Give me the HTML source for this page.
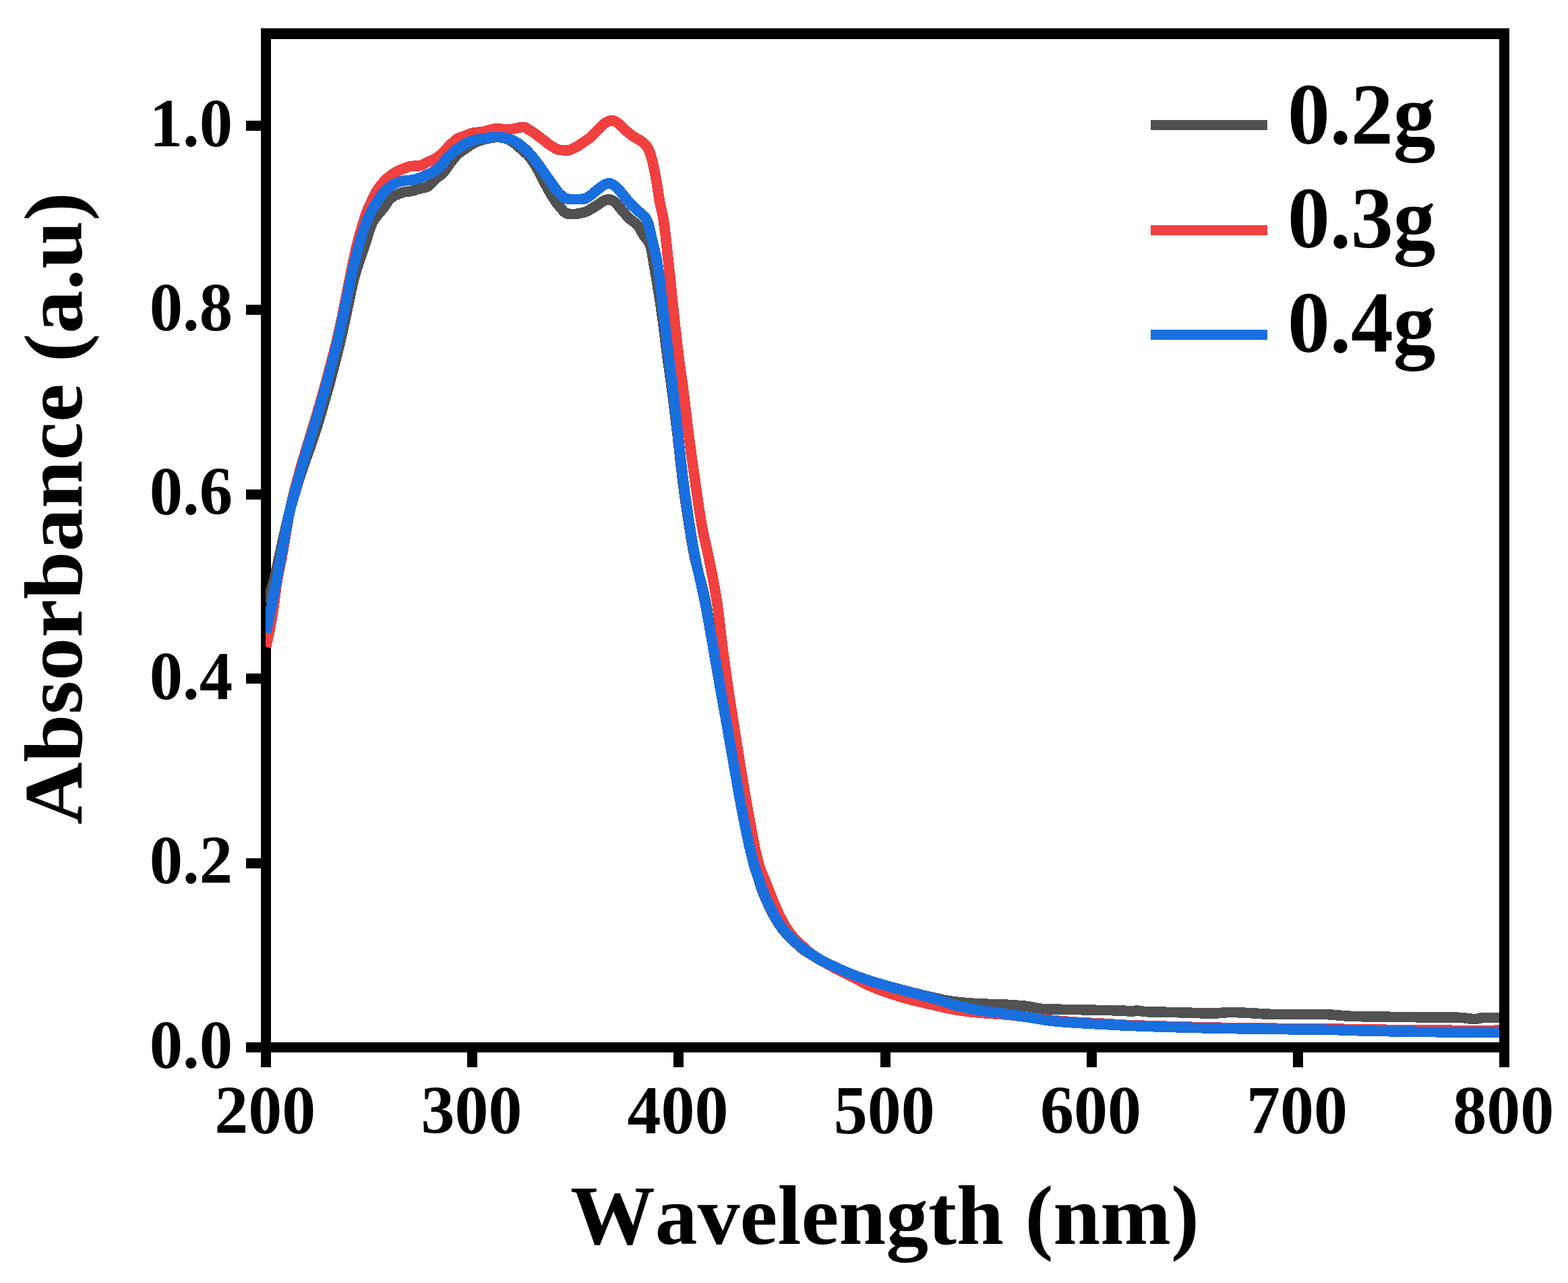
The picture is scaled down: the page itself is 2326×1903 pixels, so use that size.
<!DOCTYPE html>
<html lang="en"><head><meta charset="utf-8"><title>UV-Vis absorbance spectra</title>
<style>
html,body{margin:0;padding:0;background:#fff;}
body{width:2326px;height:1903px;}
svg{display:block;}
text{font-family:"Liberation Serif","DejaVu Serif",serif;font-weight:bold;fill:#000;font-kerning:none;font-variant-ligatures:none;}
</style></head><body>
<svg width="2326" height="1903" viewBox="0 0 2326 1903" role="img" aria-label="UV-Vis absorbance spectra for 0.2g, 0.3g and 0.4g samples">
<rect x="0" y="0" width="2326" height="1903" fill="#fff"/>
<defs><clipPath id="plotclip"><rect x="394" y="58" width="1830" height="1488"/></clipPath></defs>
<g fill="#000" shape-rendering="crispEdges">
<rect x="387" y="42" width="15" height="1541"/>
<rect x="2224" y="42" width="15" height="1541"/>
<rect x="387" y="42" width="1852" height="16"/>
<rect x="365" y="1546" width="1874" height="15"/>
<rect x="365" y="1273" width="23" height="15"/>
<rect x="365" y="999" width="23" height="15"/>
<rect x="365" y="726" width="23" height="15"/>
<rect x="365" y="452" width="23" height="15"/>
<rect x="365" y="179" width="23" height="15"/>
<rect x="693" y="1560" width="15" height="23"/>
<rect x="999" y="1560" width="15" height="23"/>
<rect x="1306" y="1560" width="15" height="23"/>
<rect x="1612" y="1560" width="15" height="23"/>
<rect x="1918" y="1560" width="15" height="23"/>
</g>
<g clip-path="url(#plotclip)" fill="none" stroke-width="15.6" stroke-linejoin="round" stroke-linecap="butt" shape-rendering="crispEdges">
<polyline id="c02" stroke="#515151" points="394.5,894.0 395.3,892.2 396.1,890.3 397.0,888.5 397.8,886.6 398.5,884.8 399.3,882.9 400.1,881.1 400.8,879.2 401.5,877.3 402.1,875.5 402.8,873.6 403.3,871.7 403.9,869.8 404.5,867.9 405.0,866.0 405.5,864.0 406.0,862.1 406.5,860.2 407.0,858.2 407.5,856.3 408.0,854.4 408.4,852.4 408.9,850.5 409.3,848.5 409.8,846.6 410.2,844.6 410.6,842.6 411.1,840.7 411.5,838.7 411.9,836.7 412.3,834.8 412.7,832.8 413.1,830.8 413.6,828.9 414.0,826.9 414.4,825.0 414.8,823.0 415.3,821.0 415.7,819.1 416.2,817.1 416.6,815.2 417.1,813.2 417.5,811.3 418.0,809.3 418.4,807.4 418.8,805.4 419.3,803.5 419.7,801.5 420.2,799.6 420.6,797.6 421.0,795.7 421.5,793.7 421.9,791.7 422.3,789.8 422.8,787.8 423.2,785.9 423.7,783.9 424.1,782.0 424.5,780.0 425.0,778.1 425.5,776.1 425.9,774.2 426.4,772.2 426.8,770.3 427.3,768.3 427.8,766.4 428.3,764.5 428.7,762.5 429.2,760.6 429.7,758.6 430.2,756.7 430.7,754.8 431.3,752.9 431.8,750.9 432.3,749.0 432.8,747.1 433.4,745.1 433.9,743.2 434.5,741.3 435.0,739.4 435.6,737.4 436.2,735.5 436.7,733.6 437.3,731.7 437.9,729.8 438.4,727.8 439.0,725.9 439.6,724.0 440.2,722.1 440.8,720.2 441.4,718.3 442.0,716.4 442.6,714.5 443.2,712.5 443.8,710.6 444.4,708.7 445.0,706.8 445.6,704.9 446.2,703.0 446.8,701.1 447.5,699.2 448.1,697.3 448.7,695.4 449.4,693.5 450.0,691.6 450.7,689.7 451.3,687.8 452.0,686.0 452.7,684.1 453.3,682.2 454.0,680.3 454.7,678.4 455.4,676.5 456.1,674.7 456.7,672.8 457.4,670.9 458.1,669.0 458.8,667.1 459.5,665.2 460.1,663.4 460.8,661.5 461.5,659.6 462.1,657.7 462.8,655.8 463.4,653.9 464.1,652.0 464.7,650.1 465.3,648.2 465.9,646.3 466.6,644.4 467.2,642.5 467.8,640.6 468.4,638.7 469.0,636.8 469.6,634.9 470.2,633.0 470.8,631.1 471.4,629.1 472.0,627.2 472.5,625.3 473.1,623.4 473.7,621.5 474.3,619.6 474.9,617.7 475.4,615.7 476.0,613.8 476.6,611.9 477.1,610.0 477.7,608.1 478.3,606.1 478.8,604.2 479.4,602.3 480.0,600.4 480.5,598.5 481.1,596.5 481.6,594.6 482.2,592.7 482.7,590.8 483.3,588.8 483.8,586.9 484.4,585.0 484.9,583.1 485.5,581.1 486.0,579.2 486.5,577.3 487.1,575.4 487.6,573.4 488.1,571.5 488.7,569.6 489.2,567.6 489.7,565.7 490.2,563.8 490.8,561.8 491.3,559.9 491.8,558.0 492.3,556.0 492.8,554.1 493.3,552.2 493.8,550.2 494.3,548.3 494.9,546.4 495.4,544.4 495.9,542.5 496.4,540.6 496.9,538.6 497.4,536.7 497.8,534.7 498.3,532.8 498.8,530.9 499.3,528.9 499.8,527.0 500.3,525.0 500.8,523.1 501.3,521.1 501.7,519.2 502.2,517.3 502.7,515.3 503.1,513.4 503.6,511.4 504.1,509.5 504.5,507.5 505.0,505.6 505.5,503.6 505.9,501.7 506.4,499.7 506.8,497.8 507.3,495.8 507.7,493.9 508.1,491.9 508.6,490.0 509.0,488.0 509.4,486.1 509.8,484.1 510.2,482.2 510.7,480.2 511.1,478.2 511.5,476.3 511.9,474.3 512.3,472.4 512.7,470.4 513.1,468.4 513.6,466.5 514.0,464.5 514.4,462.6 514.8,460.6 515.2,458.7 515.6,456.7 516.0,454.7 516.5,452.8 516.9,450.8 517.3,448.9 517.7,446.9 518.1,445.0 518.5,443.0 519.0,441.0 519.4,439.1 519.8,437.1 520.2,435.1 520.6,433.2 521.0,431.2 521.4,429.3 521.8,427.3 522.3,425.4 522.7,423.4 523.2,421.5 523.6,419.5 524.1,417.6 524.6,415.6 525.1,413.7 525.6,411.8 526.1,409.9 526.7,407.9 527.2,406.0 527.8,404.1 528.3,402.2 528.9,400.3 529.5,398.3 530.1,396.4 530.7,394.5 531.3,392.6 531.9,390.7 532.5,388.8 533.2,386.9 533.8,385.0 534.4,383.1 535.1,381.2 535.7,379.3 536.4,377.4 537.0,375.5 537.7,373.6 538.3,371.7 539.0,369.8 539.6,367.9 540.2,366.0 540.9,364.1 541.5,362.2 542.2,360.3 542.8,358.4 543.4,356.5 544.1,354.6 544.7,352.7 545.3,350.8 545.8,348.8 546.4,346.9 547.0,344.9 547.6,343.0 548.2,341.1 548.9,339.2 549.5,337.3 550.2,335.4 550.9,333.6 551.7,331.8 552.5,330.0 553.4,328.3 554.4,326.6 555.4,324.9 556.6,323.3 557.8,321.7 559.1,320.1 560.4,318.6 561.7,317.0 563.0,315.4 564.3,313.9 565.6,312.3 566.9,310.8 568.2,309.3 569.4,307.7 570.6,306.1 571.7,304.4 572.8,302.7 573.8,301.0 574.9,299.3 576.1,297.8 577.5,296.3 578.9,294.9 580.4,293.5 582.0,292.3 583.6,291.2 585.4,290.2 587.2,289.4 589.0,288.6 590.9,287.8 592.8,287.1 594.6,286.3 596.5,285.7 598.5,285.1 600.4,284.7 602.4,284.4 604.4,284.2 606.4,283.9 608.4,283.7 610.3,283.4 612.3,282.9 614.2,282.4 616.1,281.8 618.0,281.1 619.9,280.5 621.8,279.9 623.8,279.4 625.8,279.0 627.8,278.6 629.8,278.2 631.7,277.7 633.5,277.1 635.1,276.2 636.7,275.1 638.1,273.8 639.5,272.3 640.9,270.7 642.2,269.0 643.6,267.5 645.1,266.1 646.6,264.8 648.2,263.6 649.9,262.4 651.5,261.2 653.1,260.0 654.6,258.7 656.1,257.4 657.5,256.0 658.8,254.5 660.0,252.9 661.2,251.3 662.4,249.7 663.5,248.0 664.7,246.4 665.8,244.7 667.0,243.1 668.3,241.5 669.5,239.9 670.8,238.4 672.0,236.8 673.3,235.2 674.5,233.6 675.8,232.1 677.2,230.6 678.5,229.2 680.0,227.8 681.5,226.6 683.1,225.4 684.7,224.2 686.4,223.1 688.1,222.0 689.8,220.9 691.5,219.8 693.1,218.6 694.7,217.4 696.3,216.2 698.0,215.0 699.6,213.9 701.3,212.9 703.1,212.0 704.9,211.2 706.7,210.4 708.6,209.7 710.5,209.0 712.4,208.4 714.3,207.8 716.2,207.2 718.2,206.7 720.1,206.2 722.1,205.7 724.0,205.2 726.0,204.9 727.9,204.6 729.9,204.2 731.9,203.9 733.9,203.7 735.9,203.5 737.9,203.5 739.9,203.6 741.9,203.8 743.9,204.1 745.9,204.4 747.9,204.8 749.8,205.2 751.6,205.8 753.5,206.5 755.3,207.4 757.1,208.4 758.9,209.5 760.6,210.5 762.2,211.6 763.8,212.7 765.4,214.0 766.9,215.3 768.4,216.7 769.9,218.0 771.4,219.4 772.9,220.8 774.4,222.1 775.9,223.4 777.4,224.7 778.9,226.1 780.4,227.4 781.9,228.8 783.3,230.2 784.6,231.7 785.8,233.2 787.1,234.8 788.2,236.4 789.4,238.0 790.5,239.7 791.6,241.4 792.7,243.1 793.8,244.8 794.8,246.5 795.8,248.2 796.8,250.0 797.8,251.7 798.8,253.4 799.7,255.2 800.6,257.0 801.5,258.8 802.4,260.6 803.3,262.4 804.2,264.1 805.1,265.9 806.1,267.7 807.0,269.5 808.0,271.2 808.9,273.0 809.9,274.8 810.8,276.5 811.8,278.3 812.7,280.1 813.7,281.8 814.7,283.6 815.7,285.3 816.7,287.0 817.7,288.7 818.7,290.4 819.8,292.1 820.9,293.8 822.0,295.5 823.1,297.2 824.3,298.8 825.4,300.5 826.6,302.1 827.9,303.7 829.1,305.2 830.4,306.7 831.7,308.2 833.1,309.9 834.5,311.5 836.0,313.2 837.5,314.6 839.1,315.8 840.7,316.7 842.4,317.1 844.3,317.3 846.4,317.5 848.5,317.6 850.5,317.6 852.5,317.5 854.5,317.3 856.5,317.0 858.5,316.7 860.5,316.3 862.4,315.9 864.4,315.5 866.3,315.0 868.1,314.4 870.0,313.6 871.8,312.7 873.6,311.8 875.4,310.8 877.1,309.9 878.9,308.9 880.6,307.8 882.2,306.7 883.9,305.6 885.6,304.5 887.3,303.5 889.0,302.4 890.7,301.2 892.4,300.0 894.1,298.8 895.8,297.7 897.6,296.9 899.4,296.4 901.4,296.1 903.4,295.9 905.3,296.0 907.2,296.6 909.1,297.7 910.8,298.8 912.3,300.0 913.8,301.2 915.1,302.6 916.4,304.2 917.7,305.8 919.0,307.4 920.2,309.1 921.5,310.7 922.8,312.2 924.1,313.7 925.5,315.2 926.8,316.7 928.2,318.2 929.5,319.6 930.9,321.1 932.3,322.5 933.7,323.9 935.2,325.3 936.7,326.6 938.3,327.8 939.9,329.0 941.6,330.3 943.1,331.5 944.6,332.9 945.9,334.3 947.1,335.8 948.2,337.4 949.2,339.1 950.2,340.9 951.2,342.7 952.2,344.5 953.2,346.2 954.2,348.0 955.3,349.7 956.5,351.3 957.7,352.9 959.0,354.6 960.3,356.2 961.5,357.8 962.6,359.5 963.6,361.2 964.3,362.9 964.9,364.7 965.4,366.6 965.9,368.4 966.3,370.4 966.7,372.3 967.1,374.3 967.5,376.3 967.8,378.3 968.1,380.3 968.4,382.3 968.8,384.4 969.1,386.4 969.4,388.4 969.7,390.4 970.1,392.4 970.4,394.3 970.8,396.3 971.1,398.3 971.5,400.2 971.8,402.2 972.2,404.2 972.5,406.1 972.8,408.1 973.2,410.1 973.5,412.1 973.8,414.0 974.2,416.0 974.5,418.0 974.8,420.0 975.2,421.9 975.5,423.9 975.8,425.9 976.1,427.9 976.5,429.8 976.8,431.8 977.1,433.8 977.4,435.8 977.7,437.7 978.0,439.7 978.4,441.7 978.7,443.7 979.0,445.6 979.3,447.6 979.6,449.6 979.9,451.6 980.2,453.6 980.5,455.5 980.8,457.5 981.0,459.5 981.3,461.5 981.6,463.5 981.9,465.4 982.2,467.4 982.5,469.4 982.7,471.4 983.0,473.4 983.3,475.3 983.5,477.3 983.8,479.3 984.1,481.3 984.3,483.3 984.6,485.3 984.8,487.3 985.1,489.2 985.3,491.2 985.6,493.2 985.8,495.2 986.1,497.2 986.3,499.2 986.6,501.2 986.8,503.1 987.1,505.1 987.3,507.1 987.5,509.1 987.8,511.1 988.0,513.1 988.3,515.1 988.5,517.0 988.8,519.0 989.0,521.0 989.3,523.0 989.5,525.0 989.8,527.0 990.1,529.0 990.3,530.9 990.6,532.9 990.9,534.9 991.1,536.9 991.4,538.9 991.7,540.9 991.9,542.8 992.2,544.8 992.5,546.8 992.8,548.8 993.1,550.8 993.4,552.7 993.7,554.7 993.9,556.7 994.2,558.7 994.5,560.7 994.8,562.6 995.1,564.6 995.3,566.6 995.6,568.6 995.9,570.6 996.1,572.6 996.4,574.5 996.7,576.5 996.9,578.5 997.2,580.5 997.4,582.5 997.7,584.5 997.9,586.4 998.2,588.4 998.4,590.4 998.7,592.4 998.9,594.4 999.2,596.4 999.4,598.4 999.7,600.3 999.9,602.3 1000.2,604.3 1000.4,606.3 1000.7,608.3 1000.9,610.3 1001.1,612.3 1001.4,614.2 1001.6,616.2 1001.9,618.2 1002.1,620.2 1002.3,622.2 1002.6,624.2 1002.8,626.2 1003.1,628.2 1003.3,630.1 1003.5,632.1 1003.8,634.1 1004.0,636.1 1004.2,638.1 1004.5,640.1 1004.7,642.1 1004.9,644.1 1005.2,646.0 1005.4,648.0 1005.6,650.0 1005.9,652.0 1006.1,654.0 1006.3,656.0 1006.5,658.0 1006.7,660.0 1007.0,662.0 1007.2,663.9 1007.4,665.9 1007.6,667.9 1007.8,669.9 1008.1,671.9 1008.3,673.9 1008.5,675.9 1008.7,677.9 1008.9,679.9 1009.1,681.8 1009.4,683.8 1009.6,685.8 1009.8,687.8 1010.0,689.8 1010.2,691.8 1010.5,693.8 1010.7,695.8 1010.9,697.8 1011.2,699.7 1011.4,701.7 1011.6,703.7 1011.9,705.7 1012.1,707.7 1012.4,709.7 1012.6,711.7 1012.9,713.6 1013.1,715.6 1013.4,717.6 1013.6,719.6 1013.9,721.6 1014.2,723.6 1014.4,725.5 1014.7,727.5 1015.0,729.5 1015.2,731.5 1015.5,733.5 1015.8,735.5 1016.1,737.4 1016.3,739.4 1016.6,741.4 1016.9,743.4 1017.2,745.4 1017.5,747.3 1017.8,749.3 1018.1,751.3 1018.4,753.3 1018.7,755.3 1018.9,757.2 1019.2,759.2 1019.5,761.2 1019.8,763.2 1020.1,765.2 1020.5,767.1 1020.8,769.1 1021.1,771.1 1021.4,773.1 1021.7,775.0 1022.0,777.0 1022.3,779.0 1022.6,781.0 1022.9,783.0 1023.2,784.9 1023.5,786.9 1023.9,788.9 1024.2,790.9 1024.5,792.8 1024.8,794.8 1025.1,796.8 1025.4,798.8 1025.8,800.7 1026.1,802.7 1026.4,804.7 1026.8,806.7 1027.1,808.6 1027.5,810.6 1027.8,812.6 1028.2,814.5 1028.5,816.5 1028.9,818.5 1029.3,820.4 1029.7,822.4 1030.1,824.4 1030.5,826.3 1030.9,828.3 1031.4,830.2 1031.8,832.2 1032.3,834.1 1032.7,836.1 1033.2,838.0 1033.7,839.9 1034.2,841.9 1034.7,843.8 1035.2,845.8 1035.7,847.7 1036.2,849.6 1036.7,851.6 1037.2,853.5 1037.7,855.5 1038.2,857.4 1038.7,859.3 1039.2,861.3 1039.7,863.2 1040.2,865.2 1040.7,867.1 1041.2,869.0 1041.7,871.0 1042.2,872.9 1042.7,874.9 1043.1,876.8 1043.6,878.8 1044.1,880.7 1044.5,882.7 1044.9,884.6 1045.4,886.6 1045.8,888.5 1046.2,890.5 1046.6,892.4 1047.0,894.4 1047.3,896.4 1047.7,898.3 1048.1,900.3 1048.4,902.2 1048.8,904.2 1049.1,906.2 1049.5,908.2 1049.8,910.1 1050.2,912.1 1050.5,914.1 1050.8,916.0 1051.2,918.0 1051.5,920.0 1051.8,922.0 1052.1,923.9 1052.5,925.9 1052.8,927.9 1053.1,929.9 1053.4,931.9 1053.7,933.8 1054.0,935.8 1054.3,937.8 1054.7,939.8 1055.0,941.7 1055.3,943.7 1055.6,945.7 1055.9,947.7 1056.2,949.7 1056.5,951.6 1056.9,953.6 1057.2,955.6 1057.5,957.6 1057.8,959.5 1058.2,961.5 1058.5,963.5 1058.8,965.4 1059.2,967.4 1059.5,969.4 1059.9,971.4 1060.2,973.3 1060.5,975.3 1060.9,977.3 1061.2,979.3 1061.6,981.2 1061.9,983.2 1062.3,985.2 1062.6,987.1 1062.9,989.1 1063.3,991.1 1063.6,993.1 1064.0,995.0 1064.3,997.0 1064.7,999.0 1065.0,1000.9 1065.4,1002.9 1065.7,1004.9 1066.0,1006.8 1066.4,1008.8 1066.7,1010.8 1067.1,1012.8 1067.4,1014.7 1067.8,1016.7 1068.1,1018.7 1068.5,1020.6 1068.8,1022.6 1069.2,1024.6 1069.5,1026.6 1069.9,1028.5 1070.2,1030.5 1070.6,1032.5 1070.9,1034.4 1071.3,1036.4 1071.6,1038.4 1072.0,1040.3 1072.3,1042.3 1072.7,1044.3 1073.0,1046.3 1073.4,1048.2 1073.7,1050.2 1074.1,1052.2 1074.5,1054.1 1074.8,1056.1 1075.2,1058.1 1075.5,1060.0 1075.9,1062.0 1076.2,1064.0 1076.6,1066.0 1076.9,1067.9 1077.3,1069.9 1077.6,1071.9 1078.0,1073.8 1078.3,1075.8 1078.7,1077.8 1079.0,1079.7 1079.4,1081.7 1079.7,1083.7 1080.1,1085.7 1080.4,1087.6 1080.7,1089.6 1081.1,1091.6 1081.4,1093.5 1081.8,1095.5 1082.1,1097.5 1082.5,1099.5 1082.8,1101.4 1083.1,1103.4 1083.5,1105.4 1083.8,1107.3 1084.2,1109.3 1084.5,1111.3 1084.9,1113.3 1085.2,1115.2 1085.5,1117.2 1085.9,1119.2 1086.2,1121.1 1086.6,1123.1 1086.9,1125.1 1087.3,1127.1 1087.6,1129.0 1088.0,1131.0 1088.3,1133.0 1088.6,1134.9 1089.0,1136.9 1089.3,1138.9 1089.7,1140.9 1090.0,1142.8 1090.4,1144.8 1090.7,1146.8 1091.1,1148.7 1091.4,1150.7 1091.8,1152.7 1092.1,1154.6 1092.5,1156.6 1092.8,1158.6 1093.2,1160.6 1093.5,1162.5 1093.9,1164.5 1094.2,1166.5 1094.6,1168.5 1094.9,1170.4 1095.2,1172.4 1095.6,1174.4 1095.9,1176.3 1096.3,1178.3 1096.6,1180.3 1097.0,1182.2 1097.3,1184.2 1097.7,1186.2 1098.1,1188.2 1098.4,1190.1 1098.8,1192.1 1099.1,1194.1 1099.5,1196.0 1099.9,1198.0 1100.3,1200.0 1100.6,1201.9 1101.0,1203.9 1101.4,1205.9 1101.8,1207.8 1102.2,1209.8 1102.5,1211.7 1102.9,1213.7 1103.3,1215.7 1103.7,1217.6 1104.1,1219.6 1104.5,1221.5 1104.9,1223.5 1105.3,1225.5 1105.7,1227.4 1106.1,1229.4 1106.5,1231.4 1106.9,1233.3 1107.3,1235.3 1107.8,1237.2 1108.2,1239.2 1108.6,1241.2 1109.0,1243.1 1109.4,1245.1 1109.9,1247.0 1110.3,1249.0 1110.7,1251.0 1111.1,1252.9 1111.6,1254.9 1112.0,1256.8 1112.5,1258.8 1112.9,1260.7 1113.4,1262.7 1113.9,1264.6 1114.3,1266.6 1114.8,1268.5 1115.3,1270.4 1115.8,1272.4 1116.3,1274.3 1116.8,1276.3 1117.3,1278.2 1117.8,1280.1 1118.3,1282.0 1118.8,1284.0 1119.4,1285.9 1119.9,1287.8 1120.5,1289.7 1121.2,1291.6 1121.8,1293.5 1122.4,1295.4 1123.1,1297.3 1123.7,1299.2 1124.4,1301.1 1125.0,1303.0 1125.6,1304.9 1126.2,1306.8 1126.8,1308.8 1127.4,1310.7 1128.0,1312.6 1128.6,1314.5 1129.2,1316.4 1129.9,1318.3 1130.5,1320.1 1131.2,1322.0 1132.0,1323.9 1132.7,1325.7 1133.5,1327.6 1134.3,1329.4 1135.1,1331.3 1135.9,1333.1 1136.7,1334.9 1137.5,1336.7 1138.3,1338.6 1139.2,1340.4 1140.0,1342.2 1140.9,1344.0 1141.7,1345.8 1142.6,1347.6 1143.5,1349.4 1144.4,1351.2 1145.3,1353.0 1146.2,1354.8 1147.1,1356.5 1148.1,1358.3 1149.1,1360.0 1150.1,1361.8 1151.1,1363.5 1152.1,1365.3 1153.2,1367.0 1154.2,1368.7 1155.3,1370.3 1156.4,1372.0 1157.6,1373.6 1158.7,1375.2 1159.9,1376.8 1161.1,1378.4 1162.4,1380.0 1163.7,1381.5 1165.0,1383.1 1166.3,1384.6 1167.6,1386.1 1169.0,1387.6 1170.3,1389.0 1171.7,1390.5 1173.1,1391.9 1174.5,1393.3 1176.0,1394.7 1177.4,1396.1 1179.0,1397.4 1180.5,1398.7 1182.0,1400.0 1183.5,1401.3 1185.0,1402.6 1186.5,1403.9 1188.0,1405.3 1189.6,1406.6 1191.1,1407.8 1192.7,1409.0 1194.4,1410.1 1196.0,1411.2 1197.7,1412.3 1199.4,1413.4 1201.1,1414.5 1202.8,1415.5 1204.5,1416.6 1206.2,1417.6 1207.9,1418.7 1209.6,1419.8 1211.3,1420.8 1213.0,1421.9 1214.7,1422.9 1216.4,1423.9 1218.2,1424.9 1219.9,1425.9 1221.7,1426.8 1223.5,1427.7 1225.3,1428.5 1227.1,1429.3 1229.0,1430.2 1230.8,1431.0 1232.6,1431.8 1234.5,1432.6 1236.3,1433.4 1238.1,1434.3 1239.9,1435.1 1241.8,1435.9 1243.6,1436.7 1245.4,1437.5 1247.3,1438.3 1249.1,1439.1 1250.9,1439.9 1252.8,1440.7 1254.6,1441.5 1256.5,1442.2 1258.3,1443.0 1260.2,1443.8 1262.0,1444.5 1263.9,1445.2 1265.8,1445.9 1267.6,1446.7 1269.5,1447.4 1271.4,1448.1 1273.2,1448.8 1275.1,1449.4 1277.0,1450.1 1278.9,1450.8 1280.8,1451.5 1282.7,1452.1 1284.6,1452.8 1286.5,1453.4 1288.4,1454.0 1290.3,1454.7 1292.2,1455.3 1294.1,1455.9 1296.0,1456.5 1297.9,1457.1 1299.8,1457.6 1301.7,1458.2 1303.6,1458.8 1305.6,1459.3 1307.5,1459.9 1309.4,1460.4 1311.3,1461.0 1313.3,1461.5 1315.2,1462.1 1317.1,1462.6 1319.1,1463.1 1321.0,1463.7 1322.9,1464.2 1324.8,1464.7 1326.8,1465.3 1328.7,1465.8 1330.6,1466.3 1332.6,1466.8 1334.5,1467.3 1336.4,1467.9 1338.4,1468.4 1340.3,1468.9 1342.2,1469.4 1344.2,1469.9 1346.1,1470.4 1348.1,1470.9 1350.0,1471.4 1351.9,1471.9 1353.9,1472.4 1355.8,1472.9 1357.8,1473.4 1359.7,1473.8 1361.6,1474.3 1363.6,1474.8 1365.5,1475.3 1367.5,1475.8 1369.4,1476.3 1371.4,1476.7 1373.3,1477.2 1375.3,1477.6 1377.2,1478.1 1379.2,1478.5 1381.1,1478.9 1383.1,1479.4 1385.0,1479.8 1387.0,1480.3 1388.9,1480.7 1390.9,1481.1 1392.8,1481.6 1394.8,1482.0 1396.8,1482.4 1398.7,1482.9 1400.7,1483.3 1402.7,1483.7 1404.6,1484.0 1406.6,1484.4 1408.6,1484.7 1410.5,1485.1 1412.5,1485.3 1414.5,1485.6 1416.5,1485.9 1418.4,1486.1 1420.4,1486.3 1422.4,1486.5 1424.4,1486.7 1426.4,1486.9 1428.4,1487.1 1430.4,1487.3 1432.4,1487.5 1434.4,1487.6 1436.4,1487.8 1438.4,1488.0 1440.4,1488.1 1442.4,1488.2 1444.4,1488.4 1446.4,1488.5 1448.4,1488.6 1450.4,1488.7 1452.4,1488.8 1454.4,1488.9 1456.4,1489.0 1458.3,1489.1 1460.3,1489.1 1462.3,1489.2 1464.3,1489.3 1466.4,1489.3 1468.4,1489.4 1470.4,1489.4 1472.4,1489.5 1474.4,1489.5 1476.4,1489.6 1478.4,1489.6 1480.4,1489.7 1482.4,1489.8 1484.4,1489.8 1486.4,1489.9 1488.4,1490.0 1490.4,1490.1 1492.4,1490.2 1494.4,1490.3 1496.4,1490.4 1498.4,1490.5 1500.4,1490.7 1502.4,1490.8 1504.3,1490.9 1506.3,1491.1 1508.3,1491.2 1510.3,1491.4 1512.3,1491.5 1514.3,1491.7 1516.3,1491.9 1518.3,1492.0 1520.3,1492.2 1522.3,1492.4 1524.3,1492.6 1526.3,1492.9 1528.2,1493.2 1530.2,1493.6 1532.2,1494.0 1534.2,1494.4 1536.1,1494.8 1538.1,1495.2 1540.1,1495.6 1542.0,1496.0 1544.0,1496.3 1546.0,1496.6 1548.0,1496.8 1549.9,1496.9 1551.9,1496.9 1553.9,1497.0 1555.9,1497.0 1557.9,1497.1 1559.9,1497.1 1561.9,1497.1 1563.9,1497.2 1565.9,1497.2 1567.9,1497.2 1569.9,1497.2 1571.9,1497.2 1573.9,1497.3 1575.9,1497.3 1577.9,1497.3 1579.9,1497.3 1581.9,1497.3 1583.9,1497.3 1585.9,1497.4 1588.0,1497.4 1590.0,1497.4 1592.0,1497.4 1594.0,1497.5 1596.0,1497.5 1598.0,1497.5 1600.0,1497.6 1602.0,1497.6 1604.0,1497.7 1606.0,1497.7 1608.0,1497.8 1610.0,1497.8 1612.0,1497.9 1614.0,1497.9 1616.0,1498.0 1618.0,1498.0 1620.0,1498.1 1622.0,1498.2 1624.0,1498.2 1626.0,1498.3 1628.0,1498.3 1630.0,1498.4 1632.0,1498.4 1634.0,1498.4 1636.0,1498.5 1638.0,1498.5 1640.0,1498.5 1642.0,1498.6 1644.0,1498.6 1646.0,1498.6 1648.0,1498.6 1650.0,1498.7 1652.0,1498.7 1654.0,1498.7 1656.0,1498.8 1658.0,1498.8 1660.0,1498.9 1662.0,1498.9 1664.0,1499.0 1666.0,1499.0 1668.0,1499.1 1670.0,1499.3 1672.0,1499.6 1674.0,1499.9 1675.9,1500.2 1677.9,1500.3 1679.9,1500.1 1681.9,1499.7 1683.8,1499.2 1685.8,1499.0 1687.8,1499.1 1689.8,1499.3 1691.8,1499.6 1693.8,1499.9 1695.7,1500.2 1697.7,1500.4 1699.7,1500.6 1701.7,1500.7 1703.7,1500.7 1705.7,1500.8 1707.7,1500.9 1709.7,1500.9 1711.7,1501.0 1713.7,1501.0 1715.7,1501.0 1717.7,1501.1 1719.7,1501.1 1721.7,1501.2 1723.7,1501.2 1725.7,1501.2 1727.7,1501.2 1729.7,1501.3 1731.7,1501.3 1733.7,1501.3 1735.7,1501.4 1737.7,1501.4 1739.7,1501.4 1741.7,1501.5 1743.7,1501.5 1745.7,1501.6 1747.7,1501.7 1749.7,1501.7 1751.7,1501.8 1753.8,1501.8 1755.8,1501.9 1757.8,1502.0 1759.8,1502.0 1761.8,1502.1 1763.8,1502.2 1765.8,1502.2 1767.8,1502.3 1769.8,1502.4 1771.8,1502.4 1773.8,1502.5 1775.8,1502.6 1777.8,1502.6 1779.8,1502.7 1781.8,1502.7 1783.8,1502.8 1785.8,1502.8 1787.8,1502.9 1789.8,1502.9 1791.8,1502.9 1793.8,1503.0 1795.8,1503.0 1797.8,1503.0 1799.8,1503.0 1801.8,1503.0 1803.8,1502.9 1805.8,1502.8 1807.8,1502.7 1809.7,1502.5 1811.7,1502.3 1813.7,1502.2 1815.7,1502.0 1817.7,1501.8 1819.7,1501.7 1821.7,1501.6 1823.7,1501.5 1825.7,1501.5 1827.7,1501.5 1829.7,1501.5 1831.7,1501.6 1833.7,1501.6 1835.7,1501.7 1837.7,1501.8 1839.7,1501.9 1841.7,1502.0 1843.7,1502.1 1845.7,1502.2 1847.7,1502.3 1849.7,1502.4 1851.7,1502.5 1853.7,1502.6 1855.7,1502.7 1857.7,1502.8 1859.7,1502.9 1861.7,1503.0 1863.7,1503.2 1865.7,1503.3 1867.7,1503.4 1869.7,1503.6 1871.7,1503.7 1873.7,1503.8 1875.7,1504.0 1877.7,1504.1 1879.7,1504.2 1881.7,1504.2 1883.7,1504.3 1885.7,1504.3 1887.7,1504.3 1889.7,1504.3 1891.7,1504.3 1893.7,1504.3 1895.7,1504.3 1897.7,1504.3 1899.7,1504.3 1901.7,1504.3 1903.7,1504.3 1905.7,1504.3 1907.7,1504.3 1909.7,1504.3 1911.7,1504.3 1913.7,1504.3 1915.7,1504.3 1917.7,1504.3 1919.7,1504.4 1921.7,1504.4 1923.7,1504.4 1925.7,1504.4 1927.7,1504.4 1929.7,1504.4 1931.7,1504.4 1933.7,1504.4 1935.7,1504.4 1937.7,1504.4 1939.7,1504.4 1941.7,1504.4 1943.7,1504.4 1945.7,1504.4 1947.7,1504.4 1949.7,1504.4 1951.7,1504.4 1953.7,1504.4 1955.7,1504.4 1957.7,1504.4 1959.7,1504.4 1961.7,1504.4 1963.7,1504.5 1965.7,1504.5 1967.7,1504.6 1969.7,1504.7 1971.7,1504.8 1973.7,1505.0 1975.7,1505.1 1977.7,1505.3 1979.7,1505.4 1981.7,1505.6 1983.7,1505.8 1985.7,1505.9 1987.7,1506.1 1989.7,1506.3 1991.7,1506.5 1993.7,1506.6 1995.7,1506.8 1997.7,1506.9 1999.7,1507.0 2001.7,1507.2 2003.7,1507.3 2005.7,1507.3 2007.7,1507.4 2009.7,1507.4 2011.7,1507.5 2013.7,1507.5 2015.7,1507.6 2017.7,1507.6 2019.7,1507.7 2021.7,1507.7 2023.7,1507.7 2025.7,1507.8 2027.7,1507.8 2029.7,1507.8 2031.7,1507.9 2033.7,1507.9 2035.7,1507.9 2037.7,1508.0 2039.7,1508.0 2041.7,1508.0 2043.7,1508.0 2045.7,1508.1 2047.7,1508.1 2049.7,1508.1 2051.7,1508.1 2053.7,1508.2 2055.7,1508.2 2057.7,1508.2 2059.7,1508.2 2061.7,1508.3 2063.7,1508.3 2065.7,1508.3 2067.7,1508.3 2069.7,1508.3 2071.7,1508.4 2073.7,1508.4 2075.7,1508.4 2077.7,1508.4 2079.7,1508.4 2081.7,1508.5 2083.7,1508.5 2085.7,1508.5 2087.7,1508.5 2089.7,1508.6 2091.7,1508.6 2093.7,1508.6 2095.7,1508.6 2097.7,1508.6 2099.7,1508.7 2101.7,1508.7 2103.7,1508.7 2105.7,1508.7 2107.7,1508.7 2109.7,1508.7 2111.7,1508.8 2113.7,1508.8 2115.7,1508.8 2117.7,1508.8 2119.7,1508.8 2121.7,1508.8 2123.7,1508.8 2125.7,1508.8 2127.7,1508.9 2129.8,1508.9 2131.8,1508.9 2133.8,1508.9 2135.8,1508.9 2137.8,1508.9 2139.8,1508.9 2141.8,1509.0 2143.8,1509.0 2145.8,1509.0 2147.8,1509.0 2149.8,1509.0 2151.8,1509.1 2153.8,1509.1 2155.8,1509.1 2157.8,1509.1 2159.8,1509.2 2161.8,1509.2 2163.7,1509.3 2165.7,1509.3 2167.7,1509.4 2169.7,1509.5 2171.7,1509.7 2173.7,1510.0 2175.7,1510.3 2177.7,1510.6 2179.7,1510.9 2181.7,1511.1 2183.7,1511.3 2185.7,1511.5 2187.6,1511.5 2189.6,1511.4 2191.6,1511.1 2193.6,1510.7 2195.5,1510.2 2197.5,1509.8 2199.5,1509.5 2201.5,1509.3 2203.5,1509.3 2205.5,1509.3 2207.5,1509.3 2209.5,1509.3 2211.4,1509.3 2213.4,1509.3 2215.4,1509.3 2217.4,1509.3 2219.4,1509.3 2221.4,1509.3 2223.5,1509.3 2225.5,1509.3 2227.5,1509.3 2229.5,1509.3 2231.5,1509.3"/>
<use href="#c02" stroke-width="13.6" shape-rendering="geometricPrecision"/>
<polyline id="c03" stroke="#F14040" points="394.5,959.5 395.0,957.5 395.4,955.6 395.9,953.6 396.3,951.7 396.8,949.7 397.2,947.8 397.6,945.8 398.1,943.9 398.5,941.9 398.9,939.9 399.3,938.0 399.7,936.0 400.1,934.1 400.5,932.1 400.9,930.1 401.2,928.2 401.6,926.2 402.0,924.2 402.3,922.3 402.7,920.3 403.0,918.3 403.4,916.4 403.7,914.4 404.1,912.4 404.4,910.4 404.7,908.5 405.0,906.5 405.3,904.5 405.6,902.5 405.9,900.6 406.2,898.6 406.5,896.6 406.7,894.6 407.0,892.6 407.2,890.6 407.4,888.7 407.7,886.7 407.9,884.7 408.1,882.7 408.4,880.7 408.6,878.7 408.9,876.7 409.1,874.7 409.4,872.8 409.7,870.8 410.0,868.8 410.3,866.8 410.6,864.9 411.0,862.9 411.3,860.9 411.7,859.0 412.0,857.0 412.4,855.0 412.8,853.1 413.1,851.1 413.5,849.1 413.9,847.2 414.3,845.2 414.7,843.2 415.1,841.3 415.4,839.3 415.8,837.3 416.2,835.4 416.6,833.4 417.0,831.4 417.4,829.5 417.8,827.5 418.2,825.6 418.5,823.6 418.9,821.6 419.3,819.7 419.7,817.7 420.0,815.7 420.4,813.7 420.7,811.8 421.0,809.8 421.4,807.8 421.7,805.9 422.0,803.9 422.4,801.9 422.7,799.9 423.0,798.0 423.3,796.0 423.6,794.0 424.0,792.0 424.3,790.0 424.6,788.1 424.9,786.1 425.2,784.1 425.6,782.1 425.9,780.2 426.2,778.2 426.6,776.2 426.9,774.2 427.2,772.3 427.6,770.3 427.9,768.3 428.3,766.4 428.7,764.4 429.0,762.4 429.4,760.5 429.8,758.5 430.2,756.6 430.6,754.6 431.0,752.7 431.5,750.7 431.9,748.7 432.3,746.8 432.8,744.8 433.2,742.9 433.7,740.9 434.1,739.0 434.6,737.1 435.1,735.1 435.6,733.2 436.0,731.2 436.5,729.3 437.0,727.3 437.5,725.4 438.0,723.5 438.5,721.5 439.0,719.6 439.5,717.6 440.1,715.7 440.6,713.8 441.1,711.8 441.6,709.9 442.1,708.0 442.7,706.0 443.2,704.1 443.7,702.2 444.2,700.2 444.8,698.3 445.3,696.4 445.8,694.5 446.4,692.5 446.9,690.6 447.5,688.7 448.0,686.8 448.6,684.9 449.2,682.9 449.8,681.0 450.3,679.1 450.9,677.2 451.5,675.3 452.1,673.4 452.7,671.5 453.3,669.5 453.8,667.6 454.4,665.7 455.0,663.8 455.6,661.9 456.2,660.0 456.8,658.1 457.4,656.1 458.0,654.2 458.5,652.3 459.1,650.4 459.7,648.5 460.3,646.6 460.9,644.7 461.4,642.7 462.0,640.8 462.6,638.9 463.2,637.0 463.8,635.1 464.4,633.2 465.0,631.3 465.5,629.3 466.1,627.4 466.7,625.5 467.3,623.6 467.9,621.7 468.4,619.8 469.0,617.9 469.6,615.9 470.1,614.0 470.7,612.1 471.3,610.2 471.8,608.3 472.4,606.3 473.0,604.4 473.5,602.5 474.1,600.6 474.6,598.6 475.2,596.7 475.7,594.8 476.3,592.9 476.8,591.0 477.4,589.0 477.9,587.1 478.5,585.2 479.0,583.3 479.6,581.3 480.1,579.4 480.6,577.5 481.2,575.5 481.7,573.6 482.3,571.7 482.8,569.8 483.3,567.8 483.9,565.9 484.4,564.0 484.9,562.0 485.4,560.1 485.9,558.2 486.5,556.2 487.0,554.3 487.5,552.4 488.0,550.4 488.5,548.5 489.0,546.6 489.6,544.6 490.1,542.7 490.6,540.8 491.1,538.8 491.6,536.9 492.1,535.0 492.6,533.0 493.1,531.1 493.6,529.2 494.1,527.2 494.6,525.3 495.1,523.3 495.6,521.4 496.1,519.5 496.6,517.5 497.0,515.6 497.5,513.6 498.0,511.7 498.5,509.7 499.0,507.8 499.4,505.9 499.9,503.9 500.3,502.0 500.8,500.0 501.2,498.1 501.7,496.1 502.1,494.2 502.6,492.2 503.0,490.3 503.5,488.3 503.9,486.4 504.3,484.4 504.7,482.4 505.2,480.5 505.6,478.5 506.0,476.6 506.4,474.6 506.9,472.7 507.3,470.7 507.7,468.7 508.1,466.8 508.5,464.8 508.9,462.9 509.3,460.9 509.7,459.0 510.1,457.0 510.5,455.0 510.9,453.1 511.3,451.1 511.7,449.2 512.1,447.2 512.5,445.2 512.9,443.3 513.3,441.3 513.7,439.3 514.1,437.4 514.4,435.4 514.8,433.4 515.2,431.5 515.6,429.5 516.0,427.5 516.3,425.6 516.7,423.6 517.1,421.7 517.5,419.7 517.9,417.7 518.3,415.8 518.7,413.8 519.1,411.8 519.5,409.9 519.9,407.9 520.3,406.0 520.7,404.0 521.1,402.0 521.5,400.1 521.9,398.1 522.3,396.2 522.7,394.2 523.1,392.2 523.5,390.3 523.9,388.3 524.3,386.3 524.7,384.4 525.1,382.4 525.6,380.5 526.0,378.5 526.4,376.6 526.9,374.6 527.3,372.7 527.7,370.7 528.2,368.8 528.6,366.8 529.1,364.9 529.6,362.9 530.1,361.0 530.5,359.0 531.0,357.1 531.5,355.2 532.0,353.2 532.6,351.3 533.1,349.4 533.7,347.5 534.2,345.5 534.8,343.6 535.4,341.7 536.0,339.8 536.6,337.9 537.2,336.0 537.8,334.1 538.4,332.1 538.9,330.2 539.5,328.3 540.1,326.4 540.7,324.5 541.3,322.6 541.9,320.7 542.5,318.8 543.2,316.9 543.8,315.0 544.5,313.1 545.2,311.2 546.0,309.4 546.8,307.6 547.7,305.8 548.6,304.0 549.5,302.2 550.4,300.4 551.2,298.6 552.0,296.7 552.8,294.9 553.6,293.0 554.4,291.2 555.3,289.4 556.2,287.7 557.2,286.0 558.3,284.2 559.4,282.5 560.5,280.9 561.6,279.2 562.8,277.6 564.0,276.0 565.2,274.4 566.5,272.9 567.8,271.4 569.1,269.9 570.5,268.4 571.9,266.9 573.4,265.6 574.8,264.2 576.3,262.9 577.9,261.6 579.4,260.4 581.1,259.2 582.7,258.0 584.4,256.9 586.1,255.9 587.8,254.9 589.6,254.0 591.4,253.1 593.2,252.3 595.1,251.5 596.9,250.7 598.8,250.0 600.7,249.3 602.6,248.6 604.5,247.9 606.4,247.2 608.3,246.7 610.3,246.4 612.2,246.3 614.3,246.2 616.3,246.2 618.3,246.1 620.3,246.0 622.3,245.9 624.1,245.5 626.0,244.8 627.8,243.9 629.6,242.9 631.4,241.8 633.2,240.9 635.0,240.0 636.8,239.3 638.7,238.5 640.6,237.7 642.4,236.9 644.2,236.0 645.9,235.1 647.6,234.0 649.2,232.9 650.9,231.7 652.4,230.4 654.0,229.2 655.5,227.8 657.0,226.5 658.4,225.2 659.8,223.7 661.2,222.2 662.5,220.7 663.9,219.2 665.2,217.7 666.6,216.3 668.0,214.9 669.5,213.5 670.9,212.1 672.4,210.7 673.9,209.3 675.4,207.9 677.0,206.7 678.6,205.6 680.3,204.7 682.1,204.0 684.0,203.3 685.9,202.6 687.8,202.0 689.8,201.4 691.7,200.8 693.6,200.0 695.4,199.3 697.3,198.5 699.2,197.8 701.1,197.3 703.0,196.9 705.0,196.6 707.0,196.4 709.0,196.2 711.0,196.1 713.0,195.9 715.0,195.6 716.9,195.2 718.9,194.7 720.8,194.1 722.7,193.6 724.7,193.1 726.6,192.7 728.6,192.2 730.6,191.8 732.5,191.4 734.5,191.0 736.5,190.7 738.5,190.5 740.4,190.5 742.4,190.9 744.4,191.4 746.3,192.0 748.3,192.3 750.3,192.3 752.3,192.2 754.3,192.0 756.3,191.8 758.3,191.5 760.2,191.3 762.2,191.0 764.2,190.6 766.2,190.2 768.2,189.7 770.2,189.3 772.2,188.9 774.1,188.6 776.0,188.4 777.9,188.6 779.7,189.3 781.5,190.4 783.3,191.5 785.0,192.6 786.8,193.6 788.4,194.7 790.1,195.8 791.7,196.9 793.4,198.1 795.0,199.3 796.6,200.5 798.2,201.6 799.8,202.8 801.4,204.1 803.0,205.3 804.6,206.5 806.2,207.7 807.8,208.9 809.4,210.2 810.9,211.4 812.5,212.7 814.1,214.0 815.7,215.2 817.3,216.3 819.0,217.3 820.7,218.3 822.5,219.3 824.3,220.3 826.2,221.2 828.1,221.9 830.0,222.3 831.9,222.5 833.9,222.7 835.9,222.8 837.9,222.9 840.0,223.0 841.9,223.0 843.8,222.9 845.8,222.4 847.6,221.6 849.5,220.7 851.3,219.7 853.1,218.8 854.9,217.9 856.6,216.9 858.3,215.8 860.0,214.7 861.7,213.6 863.3,212.4 865.0,211.3 866.6,210.2 868.3,209.0 870.0,207.9 871.7,206.8 873.3,205.7 874.9,204.5 876.4,203.2 877.9,201.9 879.3,200.5 880.7,199.1 882.0,197.6 883.4,196.0 884.7,194.5 886.1,193.0 887.5,191.6 888.9,190.2 890.4,188.8 891.8,187.4 893.3,186.0 894.9,184.6 896.4,183.4 898.0,182.3 899.7,181.3 901.5,180.5 903.4,179.6 905.4,179.0 907.3,178.6 909.2,178.8 911.0,179.4 912.9,180.3 914.7,181.5 916.4,182.6 918.0,183.7 919.6,184.9 921.0,186.3 922.5,187.7 923.9,189.2 925.3,190.6 926.7,192.1 928.2,193.4 929.7,194.7 931.2,196.0 932.8,197.3 934.4,198.5 936.0,199.7 937.6,200.9 939.2,202.1 940.9,203.2 942.6,204.2 944.3,205.2 946.1,206.2 947.9,207.2 949.6,208.2 951.2,209.3 952.8,210.5 954.3,211.8 955.9,213.2 957.3,214.7 958.7,216.2 959.9,217.7 960.9,219.3 961.8,221.0 962.7,222.9 963.4,224.7 964.1,226.7 964.8,228.6 965.4,230.5 965.9,232.4 966.5,234.3 967.0,236.2 967.5,238.2 968.0,240.1 968.5,242.1 968.9,244.0 969.4,246.0 969.8,247.9 970.2,249.9 970.6,251.9 971.0,253.8 971.4,255.8 971.8,257.8 972.2,259.7 972.5,261.7 972.9,263.7 973.3,265.7 973.6,267.6 974.0,269.6 974.3,271.6 974.6,273.5 974.9,275.5 975.2,277.5 975.5,279.5 975.8,281.5 976.1,283.4 976.4,285.4 976.7,287.4 977.0,289.4 977.3,291.4 977.6,293.3 977.9,295.3 978.2,297.3 978.6,299.3 979.0,301.2 979.4,303.2 979.8,305.1 980.3,307.1 980.8,309.0 981.3,311.0 981.7,312.9 982.2,314.9 982.6,316.8 983.0,318.8 983.3,320.7 983.6,322.7 984.0,324.7 984.3,326.7 984.6,328.6 984.8,330.6 985.1,332.6 985.4,334.6 985.7,336.5 985.9,338.5 986.2,340.5 986.4,342.5 986.7,344.5 986.9,346.5 987.2,348.5 987.4,350.4 987.6,352.4 987.9,354.4 988.1,356.4 988.3,358.4 988.5,360.4 988.7,362.4 988.9,364.4 989.2,366.4 989.4,368.4 989.6,370.4 989.8,372.4 990.0,374.3 990.2,376.3 990.4,378.3 990.6,380.3 990.8,382.3 991.1,384.3 991.3,386.3 991.5,388.3 991.7,390.3 991.9,392.3 992.2,394.3 992.4,396.2 992.6,398.2 992.8,400.2 993.0,402.2 993.2,404.2 993.4,406.2 993.6,408.2 993.9,410.2 994.1,412.2 994.3,414.2 994.5,416.1 994.7,418.1 994.9,420.1 995.1,422.1 995.3,424.1 995.5,426.1 995.7,428.1 995.9,430.1 996.1,432.1 996.3,434.1 996.5,436.1 996.7,438.0 996.9,440.0 997.1,442.0 997.3,444.0 997.5,446.0 997.7,448.0 997.9,450.0 998.1,452.0 998.3,454.0 998.5,456.0 998.7,457.9 999.0,459.9 999.2,461.9 999.4,463.9 999.6,465.9 999.8,467.9 1000.0,469.9 1000.3,471.9 1000.5,473.9 1000.7,475.9 1000.9,477.8 1001.1,479.8 1001.4,481.8 1001.6,483.8 1001.8,485.8 1002.0,487.8 1002.2,489.8 1002.5,491.8 1002.7,493.8 1002.9,495.7 1003.1,497.7 1003.3,499.7 1003.6,501.7 1003.8,503.7 1004.0,505.7 1004.3,507.7 1004.5,509.7 1004.7,511.6 1005.0,513.6 1005.2,515.6 1005.4,517.6 1005.7,519.6 1005.9,521.6 1006.1,523.6 1006.4,525.6 1006.6,527.5 1006.9,529.5 1007.1,531.5 1007.4,533.5 1007.6,535.5 1007.9,537.5 1008.2,539.4 1008.4,541.4 1008.7,543.4 1009.0,545.4 1009.3,547.4 1009.6,549.4 1009.8,551.3 1010.1,553.3 1010.4,555.3 1010.7,557.3 1011.0,559.3 1011.3,561.2 1011.6,563.2 1011.8,565.2 1012.1,567.2 1012.4,569.2 1012.7,571.1 1012.9,573.1 1013.2,575.1 1013.4,577.1 1013.7,579.1 1013.9,581.1 1014.2,583.1 1014.4,585.0 1014.7,587.0 1014.9,589.0 1015.1,591.0 1015.4,593.0 1015.6,595.0 1015.9,597.0 1016.1,598.9 1016.3,600.9 1016.6,602.9 1016.8,604.9 1017.0,606.9 1017.3,608.9 1017.5,610.9 1017.7,612.9 1018.0,614.8 1018.2,616.8 1018.4,618.8 1018.7,620.8 1018.9,622.8 1019.2,624.8 1019.4,626.8 1019.6,628.8 1019.9,630.7 1020.1,632.7 1020.4,634.7 1020.6,636.7 1020.9,638.7 1021.1,640.7 1021.4,642.7 1021.6,644.6 1021.9,646.6 1022.2,648.6 1022.4,650.6 1022.7,652.6 1022.9,654.6 1023.2,656.5 1023.5,658.5 1023.7,660.5 1024.0,662.5 1024.3,664.5 1024.5,666.5 1024.8,668.4 1025.1,670.4 1025.3,672.4 1025.6,674.4 1025.9,676.4 1026.2,678.4 1026.4,680.3 1026.7,682.3 1027.0,684.3 1027.3,686.3 1027.5,688.3 1027.8,690.2 1028.1,692.2 1028.4,694.2 1028.6,696.2 1028.9,698.2 1029.2,700.2 1029.5,702.1 1029.8,704.1 1030.1,706.1 1030.3,708.1 1030.6,710.1 1030.9,712.0 1031.2,714.0 1031.5,716.0 1031.8,718.0 1032.1,720.0 1032.3,721.9 1032.6,723.9 1032.9,725.9 1033.2,727.9 1033.5,729.9 1033.8,731.8 1034.0,733.8 1034.3,735.8 1034.6,737.8 1034.9,739.8 1035.2,741.8 1035.5,743.7 1035.8,745.7 1036.1,747.7 1036.3,749.7 1036.6,751.7 1036.9,753.6 1037.2,755.6 1037.5,757.6 1037.8,759.6 1038.2,761.6 1038.5,763.5 1038.8,765.5 1039.1,767.5 1039.4,769.5 1039.7,771.4 1040.1,773.4 1040.4,775.4 1040.7,777.3 1041.1,779.3 1041.4,781.3 1041.8,783.2 1042.2,785.2 1042.5,787.2 1042.9,789.1 1043.3,791.1 1043.7,793.1 1044.1,795.0 1044.6,797.0 1045.0,798.9 1045.5,800.9 1045.9,802.8 1046.4,804.8 1046.8,806.7 1047.3,808.7 1047.7,810.6 1048.2,812.6 1048.6,814.5 1049.1,816.5 1049.5,818.4 1049.9,820.4 1050.3,822.4 1050.7,824.3 1051.1,826.3 1051.5,828.2 1051.9,830.2 1052.3,832.2 1052.7,834.1 1053.1,836.1 1053.5,838.0 1053.9,840.0 1054.3,842.0 1054.7,843.9 1055.1,845.9 1055.5,847.9 1055.9,849.8 1056.3,851.8 1056.7,853.7 1057.0,855.7 1057.4,857.7 1057.8,859.6 1058.2,861.6 1058.6,863.6 1058.9,865.5 1059.3,867.5 1059.6,869.5 1060.0,871.4 1060.4,873.4 1060.7,875.4 1061.0,877.4 1061.4,879.3 1061.7,881.3 1062.0,883.3 1062.4,885.2 1062.7,887.2 1063.0,889.2 1063.3,891.2 1063.6,893.2 1063.9,895.1 1064.1,897.1 1064.4,899.1 1064.7,901.1 1065.0,903.0 1065.2,905.0 1065.5,907.0 1065.7,909.0 1066.0,911.0 1066.2,913.0 1066.5,915.0 1066.7,916.9 1067.0,918.9 1067.2,920.9 1067.4,922.9 1067.7,924.9 1067.9,926.9 1068.1,928.9 1068.3,930.9 1068.6,932.8 1068.8,934.8 1069.0,936.8 1069.3,938.8 1069.5,940.8 1069.7,942.8 1069.9,944.8 1070.2,946.8 1070.4,948.8 1070.6,950.7 1070.9,952.7 1071.1,954.7 1071.4,956.7 1071.6,958.7 1071.9,960.7 1072.1,962.7 1072.4,964.6 1072.6,966.6 1072.9,968.6 1073.2,970.6 1073.4,972.6 1073.7,974.6 1074.0,976.5 1074.2,978.5 1074.5,980.5 1074.8,982.5 1075.0,984.5 1075.3,986.5 1075.6,988.4 1075.9,990.4 1076.1,992.4 1076.4,994.4 1076.7,996.4 1077.0,998.4 1077.2,1000.3 1077.5,1002.3 1077.8,1004.3 1078.1,1006.3 1078.3,1008.3 1078.6,1010.2 1078.9,1012.2 1079.2,1014.2 1079.5,1016.2 1079.8,1018.2 1080.1,1020.1 1080.3,1022.1 1080.6,1024.1 1080.9,1026.1 1081.2,1028.1 1081.5,1030.0 1081.8,1032.0 1082.1,1034.0 1082.4,1036.0 1082.7,1038.0 1083.0,1039.9 1083.3,1041.9 1083.6,1043.9 1083.9,1045.9 1084.2,1047.8 1084.6,1049.8 1084.9,1051.8 1085.2,1053.8 1085.5,1055.8 1085.8,1057.7 1086.1,1059.7 1086.5,1061.7 1086.8,1063.7 1087.1,1065.6 1087.4,1067.6 1087.7,1069.6 1088.0,1071.6 1088.4,1073.5 1088.7,1075.5 1089.0,1077.5 1089.3,1079.5 1089.6,1081.4 1089.9,1083.4 1090.2,1085.4 1090.5,1087.4 1090.9,1089.3 1091.2,1091.3 1091.5,1093.3 1091.8,1095.3 1092.1,1097.3 1092.4,1099.2 1092.7,1101.2 1093.0,1103.2 1093.4,1105.2 1093.7,1107.1 1094.0,1109.1 1094.3,1111.1 1094.6,1113.1 1094.9,1115.0 1095.2,1117.0 1095.6,1119.0 1095.9,1121.0 1096.2,1122.9 1096.5,1124.9 1096.8,1126.9 1097.1,1128.9 1097.5,1130.8 1097.8,1132.8 1098.1,1134.8 1098.4,1136.8 1098.8,1138.7 1099.1,1140.7 1099.4,1142.7 1099.7,1144.7 1100.1,1146.6 1100.4,1148.6 1100.7,1150.6 1101.0,1152.6 1101.4,1154.5 1101.7,1156.5 1102.0,1158.5 1102.4,1160.5 1102.7,1162.4 1103.0,1164.4 1103.3,1166.4 1103.7,1168.4 1104.0,1170.3 1104.3,1172.3 1104.7,1174.3 1105.0,1176.3 1105.3,1178.2 1105.7,1180.2 1106.0,1182.2 1106.3,1184.1 1106.7,1186.1 1107.0,1188.1 1107.4,1190.1 1107.7,1192.0 1108.0,1194.0 1108.4,1196.0 1108.7,1197.9 1109.1,1199.9 1109.5,1201.9 1109.8,1203.8 1110.2,1205.8 1110.5,1207.8 1110.9,1209.7 1111.3,1211.7 1111.6,1213.7 1112.0,1215.6 1112.4,1217.6 1112.7,1219.6 1113.1,1221.6 1113.5,1223.5 1113.8,1225.5 1114.2,1227.5 1114.5,1229.5 1114.9,1231.4 1115.3,1233.4 1115.6,1235.4 1116.0,1237.4 1116.4,1239.3 1116.7,1241.3 1117.1,1243.3 1117.5,1245.3 1117.8,1247.2 1118.2,1249.2 1118.6,1251.2 1119.0,1253.2 1119.4,1255.1 1119.8,1257.1 1120.2,1259.1 1120.6,1261.0 1121.0,1263.0 1121.5,1264.9 1121.9,1266.9 1122.4,1268.8 1122.8,1270.8 1123.3,1272.7 1123.8,1274.6 1124.3,1276.6 1124.8,1278.5 1125.3,1280.4 1125.8,1282.3 1126.4,1284.2 1126.9,1286.1 1127.5,1288.0 1128.2,1289.9 1129.0,1291.7 1129.7,1293.6 1130.5,1295.5 1131.3,1297.3 1132.1,1299.2 1132.8,1301.0 1133.5,1302.9 1134.3,1304.7 1135.0,1306.6 1135.7,1308.5 1136.5,1310.3 1137.2,1312.2 1138.0,1314.0 1138.7,1315.9 1139.5,1317.8 1140.2,1319.6 1141.0,1321.5 1141.7,1323.3 1142.5,1325.2 1143.2,1327.0 1144.0,1328.9 1144.7,1330.7 1145.5,1332.6 1146.2,1334.5 1147.0,1336.3 1147.7,1338.2 1148.5,1340.1 1149.2,1341.9 1150.0,1343.8 1150.8,1345.6 1151.6,1347.4 1152.4,1349.3 1153.2,1351.1 1154.0,1352.9 1154.9,1354.7 1155.7,1356.5 1156.6,1358.3 1157.5,1360.0 1158.5,1361.8 1159.4,1363.6 1160.4,1365.4 1161.3,1367.1 1162.3,1368.9 1163.3,1370.7 1164.4,1372.4 1165.4,1374.1 1166.5,1375.8 1167.5,1377.5 1168.6,1379.2 1169.8,1380.9 1170.9,1382.5 1172.1,1384.1 1173.2,1385.7 1174.5,1387.2 1175.7,1388.7 1177.0,1390.2 1178.4,1391.7 1179.8,1393.2 1181.2,1394.6 1182.6,1396.0 1184.1,1397.4 1185.5,1398.8 1187.0,1400.2 1188.5,1401.6 1189.9,1402.9 1191.4,1404.3 1192.8,1405.7 1194.3,1407.0 1195.8,1408.4 1197.3,1409.7 1198.8,1411.0 1200.3,1412.3 1201.9,1413.6 1203.5,1414.8 1205.0,1416.0 1206.7,1417.2 1208.3,1418.3 1210.0,1419.4 1211.7,1420.5 1213.4,1421.5 1215.1,1422.6 1216.8,1423.6 1218.5,1424.6 1220.3,1425.7 1222.0,1426.7 1223.7,1427.7 1225.4,1428.7 1227.2,1429.7 1228.9,1430.7 1230.7,1431.7 1232.4,1432.6 1234.2,1433.6 1235.9,1434.5 1237.7,1435.5 1239.5,1436.4 1241.3,1437.3 1243.0,1438.2 1244.8,1439.1 1246.6,1440.0 1248.4,1440.9 1250.2,1441.8 1252.0,1442.6 1253.8,1443.5 1255.6,1444.4 1257.4,1445.3 1259.2,1446.2 1261.0,1447.1 1262.8,1448.0 1264.5,1448.9 1266.3,1449.8 1268.1,1450.8 1269.9,1451.7 1271.6,1452.7 1273.4,1453.6 1275.2,1454.6 1276.9,1455.5 1278.7,1456.5 1280.5,1457.4 1282.2,1458.3 1284.0,1459.2 1285.8,1460.1 1287.6,1461.0 1289.4,1461.8 1291.2,1462.6 1293.1,1463.4 1294.9,1464.2 1296.7,1465.0 1298.6,1465.7 1300.5,1466.4 1302.3,1467.2 1304.2,1467.9 1306.1,1468.6 1308.0,1469.3 1309.8,1470.0 1311.7,1470.6 1313.6,1471.3 1315.5,1471.9 1317.4,1472.6 1319.3,1473.2 1321.2,1473.9 1323.1,1474.5 1325.0,1475.1 1326.9,1475.7 1328.8,1476.3 1330.7,1476.9 1332.6,1477.5 1334.6,1478.1 1336.5,1478.7 1338.4,1479.3 1340.3,1479.8 1342.2,1480.4 1344.2,1480.9 1346.1,1481.4 1348.0,1482.0 1350.0,1482.5 1351.9,1483.0 1353.8,1483.5 1355.8,1483.9 1357.7,1484.4 1359.7,1484.9 1361.6,1485.3 1363.6,1485.8 1365.5,1486.2 1367.5,1486.7 1369.4,1487.1 1371.4,1487.6 1373.3,1488.0 1375.3,1488.4 1377.2,1488.9 1379.2,1489.3 1381.1,1489.8 1383.1,1490.2 1385.0,1490.7 1387.0,1491.1 1388.9,1491.6 1390.9,1492.1 1392.8,1492.6 1394.8,1493.0 1396.7,1493.5 1398.7,1494.0 1400.6,1494.4 1402.6,1494.9 1404.5,1495.3 1406.5,1495.7 1408.5,1496.1 1410.4,1496.5 1412.4,1496.9 1414.3,1497.2 1416.3,1497.5 1418.3,1497.9 1420.2,1498.2 1422.2,1498.5 1424.2,1498.8 1426.2,1499.1 1428.2,1499.3 1430.2,1499.6 1432.1,1499.9 1434.1,1500.1 1436.1,1500.4 1438.1,1500.6 1440.1,1500.9 1442.1,1501.1 1444.1,1501.3 1446.1,1501.5 1448.1,1501.7 1450.0,1501.9 1452.0,1502.1 1454.0,1502.3 1456.0,1502.4 1458.0,1502.6 1460.0,1502.8 1462.0,1502.9 1464.0,1503.0 1466.0,1503.2 1468.0,1503.3 1470.0,1503.4 1472.0,1503.6 1474.0,1503.7 1476.0,1503.8 1478.0,1503.9 1480.0,1504.1 1482.0,1504.2 1484.0,1504.4 1486.0,1504.5 1488.0,1504.7 1490.0,1504.9 1491.9,1505.0 1493.9,1505.2 1495.9,1505.4 1497.9,1505.6 1499.9,1505.8 1501.9,1506.0 1503.9,1506.2 1505.9,1506.4 1507.9,1506.7 1509.9,1506.9 1511.9,1507.1 1513.8,1507.3 1515.8,1507.5 1517.8,1507.8 1519.8,1508.0 1521.8,1508.2 1523.8,1508.5 1525.8,1508.7 1527.8,1509.0 1529.7,1509.2 1531.7,1509.5 1533.7,1509.8 1535.7,1510.1 1537.7,1510.3 1539.6,1510.6 1541.6,1510.9 1543.6,1511.2 1545.6,1511.5 1547.6,1511.8 1549.6,1512.0 1551.5,1512.3 1553.5,1512.6 1555.5,1512.8 1557.5,1513.0 1559.5,1513.2 1561.5,1513.4 1563.5,1513.6 1565.5,1513.8 1567.4,1514.0 1569.4,1514.2 1571.4,1514.4 1573.4,1514.5 1575.4,1514.7 1577.4,1514.9 1579.4,1515.0 1581.4,1515.2 1583.4,1515.3 1585.4,1515.5 1587.4,1515.6 1589.4,1515.8 1591.4,1515.9 1593.4,1516.0 1595.4,1516.2 1597.4,1516.3 1599.4,1516.4 1601.4,1516.5 1603.4,1516.6 1605.4,1516.7 1607.4,1516.8 1609.4,1516.9 1611.4,1517.0 1613.4,1517.1 1615.4,1517.2 1617.4,1517.3 1619.4,1517.4 1621.4,1517.5 1623.4,1517.6 1625.4,1517.7 1627.4,1517.8 1629.4,1517.9 1631.4,1518.0 1633.4,1518.1 1635.3,1518.2 1637.3,1518.3 1639.3,1518.4 1641.3,1518.6 1643.3,1518.7 1645.3,1518.8 1647.3,1519.0 1649.3,1519.1 1651.3,1519.2 1653.3,1519.4 1655.3,1519.5 1657.3,1519.6 1659.3,1519.7 1661.3,1519.9 1663.3,1520.0 1665.3,1520.1 1667.3,1520.2 1669.3,1520.3 1671.3,1520.3 1673.3,1520.4 1675.3,1520.5 1677.3,1520.6 1679.3,1520.7 1681.3,1520.7 1683.3,1520.8 1685.3,1520.9 1687.3,1521.0 1689.3,1521.0 1691.3,1521.1 1693.3,1521.2 1695.3,1521.2 1697.3,1521.3 1699.3,1521.4 1701.3,1521.4 1703.3,1521.5 1705.3,1521.6 1707.3,1521.6 1709.3,1521.7 1711.3,1521.7 1713.3,1521.8 1715.3,1521.9 1717.3,1521.9 1719.3,1522.0 1721.3,1522.0 1723.3,1522.1 1725.3,1522.1 1727.3,1522.2 1729.3,1522.3 1731.3,1522.3 1733.3,1522.4 1735.3,1522.4 1737.3,1522.5 1739.3,1522.5 1741.3,1522.6 1743.3,1522.6 1745.3,1522.7 1747.3,1522.7 1749.3,1522.8 1751.3,1522.9 1753.3,1522.9 1755.3,1523.0 1757.3,1523.0 1759.3,1523.1 1761.3,1523.1 1763.3,1523.2 1765.3,1523.2 1767.3,1523.3 1769.3,1523.3 1771.3,1523.4 1773.3,1523.4 1775.3,1523.5 1777.3,1523.5 1779.3,1523.6 1781.3,1523.6 1783.3,1523.7 1785.3,1523.7 1787.3,1523.8 1789.3,1523.8 1791.3,1523.9 1793.3,1523.9 1795.3,1523.9 1797.3,1524.0 1799.3,1524.0 1801.3,1524.1 1803.3,1524.1 1805.3,1524.1 1807.3,1524.2 1809.3,1524.2 1811.3,1524.3 1813.3,1524.3 1815.3,1524.3 1817.3,1524.4 1819.3,1524.4 1821.3,1524.4 1823.3,1524.4 1825.3,1524.5 1827.3,1524.5 1829.3,1524.5 1831.3,1524.6 1833.3,1524.6 1835.3,1524.6 1837.3,1524.6 1839.3,1524.7 1841.3,1524.7 1843.3,1524.7 1845.3,1524.8 1847.3,1524.8 1849.3,1524.8 1851.3,1524.8 1853.3,1524.9 1855.3,1524.9 1857.3,1524.9 1859.3,1524.9 1861.3,1524.9 1863.3,1525.0 1865.3,1525.0 1867.3,1525.0 1869.3,1525.0 1871.3,1525.1 1873.3,1525.1 1875.3,1525.1 1877.3,1525.1 1879.3,1525.1 1881.3,1525.2 1883.3,1525.2 1885.3,1525.2 1887.3,1525.2 1889.3,1525.2 1891.4,1525.2 1893.4,1525.3 1895.4,1525.3 1897.4,1525.3 1899.4,1525.3 1901.4,1525.3 1903.4,1525.3 1905.4,1525.3 1907.4,1525.4 1909.4,1525.4 1911.4,1525.4 1913.4,1525.4 1915.4,1525.4 1917.4,1525.4 1919.4,1525.4 1921.4,1525.4 1923.4,1525.5 1925.4,1525.5 1927.4,1525.5 1929.4,1525.5 1931.4,1525.5 1933.4,1525.5 1935.4,1525.5 1937.4,1525.5 1939.4,1525.5 1941.4,1525.6 1943.4,1525.6 1945.4,1525.6 1947.4,1525.6 1949.4,1525.6 1951.4,1525.6 1953.4,1525.6 1955.4,1525.7 1957.4,1525.7 1959.4,1525.7 1961.4,1525.7 1963.4,1525.7 1965.4,1525.8 1967.4,1525.8 1969.4,1525.8 1971.4,1525.8 1973.4,1525.8 1975.4,1525.9 1977.4,1525.9 1979.4,1525.9 1981.4,1526.0 1983.4,1526.0 1985.4,1526.1 1987.4,1526.1 1989.4,1526.2 1991.4,1526.2 1993.4,1526.3 1995.4,1526.3 1997.4,1526.4 1999.4,1526.4 2001.4,1526.5 2003.4,1526.5 2005.4,1526.6 2007.4,1526.6 2009.4,1526.7 2011.4,1526.7 2013.4,1526.8 2015.4,1526.8 2017.4,1526.8 2019.4,1526.9 2021.4,1526.9 2023.4,1526.9 2025.4,1526.9 2027.4,1527.0 2029.4,1527.0 2031.4,1527.0 2033.4,1527.0 2035.4,1527.1 2037.4,1527.1 2039.4,1527.1 2041.4,1527.1 2043.4,1527.1 2045.4,1527.2 2047.4,1527.2 2049.4,1527.2 2051.4,1527.2 2053.4,1527.2 2055.4,1527.3 2057.4,1527.3 2059.4,1527.3 2061.4,1527.3 2063.4,1527.3 2065.4,1527.3 2067.4,1527.4 2069.4,1527.4 2071.4,1527.4 2073.4,1527.4 2075.4,1527.4 2077.4,1527.5 2079.4,1527.5 2081.4,1527.5 2083.4,1527.5 2085.4,1527.5 2087.4,1527.5 2089.4,1527.6 2091.4,1527.6 2093.4,1527.6 2095.4,1527.6 2097.4,1527.6 2099.4,1527.7 2101.4,1527.7 2103.4,1527.7 2105.4,1527.7 2107.4,1527.8 2109.4,1527.8 2111.4,1527.8 2113.4,1527.8 2115.4,1527.9 2117.4,1527.9 2119.4,1527.9 2121.4,1527.9 2123.4,1528.0 2125.4,1528.0 2127.4,1528.0 2129.5,1528.0 2131.5,1528.1 2133.5,1528.1 2135.5,1528.1 2137.5,1528.1 2139.5,1528.1 2141.5,1528.2 2143.5,1528.2 2145.5,1528.2 2147.5,1528.2 2149.5,1528.2 2151.5,1528.2 2153.5,1528.3 2155.5,1528.3 2157.5,1528.3 2159.5,1528.3 2161.5,1528.3 2163.5,1528.3 2165.5,1528.3 2167.5,1528.3 2169.5,1528.3 2171.5,1528.3 2173.5,1528.3 2175.5,1528.3 2177.5,1528.3 2179.5,1528.3 2181.5,1528.3 2183.5,1528.3 2185.5,1528.3 2187.5,1528.3 2189.5,1528.3 2191.5,1528.3 2193.5,1528.3 2195.5,1528.3 2197.5,1528.3 2199.5,1528.3 2201.5,1528.3 2203.5,1528.3 2205.5,1528.3 2207.5,1528.3 2209.5,1528.3 2211.5,1528.3 2213.5,1528.3 2215.5,1528.3 2217.5,1528.3 2219.5,1528.2 2221.5,1528.2 2223.5,1528.2 2225.5,1528.2 2227.5,1528.2 2229.5,1528.2 2231.5,1528.2"/>
<use href="#c03" stroke-width="13.6" shape-rendering="geometricPrecision"/>
<polyline id="c04" stroke="#1A6FDF" points="394.5,938.0 394.9,936.0 395.3,934.1 395.8,932.1 396.2,930.2 396.6,928.2 397.0,926.3 397.4,924.3 397.9,922.3 398.3,920.4 398.7,918.4 399.1,916.5 399.5,914.5 399.9,912.6 400.3,910.6 400.7,908.6 401.1,906.7 401.5,904.7 401.9,902.8 402.4,900.8 402.8,898.8 403.2,896.9 403.6,894.9 404.0,893.0 404.4,891.0 404.8,889.0 405.1,887.1 405.5,885.1 405.9,883.2 406.3,881.2 406.7,879.2 407.1,877.3 407.5,875.3 407.9,873.4 408.3,871.4 408.7,869.4 409.0,867.5 409.4,865.5 409.8,863.5 410.2,861.6 410.6,859.6 410.9,857.6 411.3,855.7 411.7,853.7 412.0,851.7 412.4,849.8 412.8,847.8 413.2,845.8 413.5,843.9 413.9,841.9 414.3,839.9 414.6,838.0 415.0,836.0 415.4,834.0 415.7,832.1 416.1,830.1 416.5,828.1 416.8,826.2 417.2,824.2 417.6,822.2 417.9,820.3 418.3,818.3 418.7,816.3 419.1,814.4 419.4,812.4 419.8,810.4 420.2,808.5 420.5,806.5 420.9,804.5 421.3,802.6 421.6,800.6 422.0,798.6 422.3,796.7 422.7,794.7 423.0,792.7 423.4,790.8 423.8,788.8 424.1,786.8 424.5,784.8 424.9,782.9 425.2,780.9 425.6,778.9 426.0,777.0 426.4,775.0 426.8,773.1 427.1,771.1 427.5,769.1 427.9,767.2 428.3,765.2 428.8,763.3 429.2,761.3 429.6,759.4 430.0,757.4 430.5,755.5 430.9,753.5 431.4,751.6 431.9,749.6 432.3,747.7 432.8,745.8 433.3,743.8 433.8,741.9 434.3,739.9 434.8,738.0 435.3,736.1 435.9,734.1 436.4,732.2 436.9,730.3 437.4,728.3 438.0,726.4 438.5,724.5 439.1,722.6 439.6,720.6 440.2,718.7 440.7,716.8 441.3,714.9 441.8,712.9 442.4,711.0 442.9,709.1 443.5,707.2 444.0,705.2 444.6,703.3 445.1,701.4 445.7,699.5 446.2,697.5 446.8,695.6 447.3,693.7 447.9,691.8 448.4,689.9 449.0,687.9 449.6,686.0 450.1,684.1 450.7,682.2 451.3,680.3 451.9,678.3 452.4,676.4 453.0,674.5 453.6,672.6 454.2,670.7 454.7,668.8 455.3,666.9 455.9,664.9 456.5,663.0 457.1,661.1 457.7,659.2 458.2,657.3 458.8,655.4 459.4,653.5 460.0,651.5 460.6,649.6 461.1,647.7 461.7,645.8 462.3,643.9 462.9,642.0 463.5,640.1 464.1,638.1 464.6,636.2 465.2,634.3 465.8,632.4 466.4,630.5 467.0,628.6 467.6,626.7 468.1,624.7 468.7,622.8 469.3,620.9 469.9,619.0 470.4,617.1 471.0,615.2 471.6,613.2 472.1,611.3 472.7,609.4 473.3,607.5 473.8,605.6 474.4,603.6 474.9,601.7 475.5,599.8 476.0,597.9 476.6,596.0 477.2,594.0 477.7,592.1 478.3,590.2 478.8,588.3 479.4,586.3 479.9,584.4 480.4,582.5 481.0,580.6 481.5,578.6 482.1,576.7 482.6,574.8 483.1,572.8 483.7,570.9 484.2,569.0 484.7,567.1 485.3,565.1 485.8,563.2 486.3,561.3 486.8,559.3 487.4,557.4 487.9,555.5 488.4,553.5 488.9,551.6 489.4,549.7 489.9,547.7 490.4,545.8 491.0,543.9 491.5,541.9 492.0,540.0 492.5,538.1 493.0,536.1 493.5,534.2 494.0,532.3 494.5,530.3 495.0,528.4 495.5,526.5 496.0,524.5 496.5,522.6 497.0,520.6 497.5,518.7 498.0,516.8 498.4,514.8 498.9,512.9 499.4,510.9 499.9,509.0 500.3,507.0 500.8,505.1 501.3,503.1 501.7,501.2 502.2,499.3 502.6,497.3 503.1,495.4 503.5,493.4 504.0,491.5 504.4,489.5 504.8,487.5 505.2,485.6 505.7,483.6 506.1,481.7 506.5,479.7 506.9,477.8 507.4,475.8 507.8,473.9 508.2,471.9 508.6,469.9 509.0,468.0 509.4,466.0 509.8,464.1 510.2,462.1 510.6,460.1 511.0,458.2 511.5,456.2 511.9,454.3 512.3,452.3 512.7,450.4 513.1,448.4 513.5,446.4 513.9,444.5 514.3,442.5 514.7,440.6 515.1,438.6 515.5,436.6 515.9,434.7 516.3,432.7 516.6,430.7 517.0,428.8 517.4,426.8 517.8,424.9 518.2,422.9 518.7,420.9 519.1,419.0 519.5,417.0 519.9,415.1 520.4,413.1 520.8,411.2 521.2,409.2 521.7,407.3 522.1,405.3 522.6,403.4 523.0,401.4 523.5,399.5 523.9,397.5 524.4,395.6 524.8,393.6 525.3,391.7 525.8,389.7 526.2,387.8 526.7,385.8 527.2,383.9 527.7,381.9 528.2,380.0 528.7,378.1 529.2,376.1 529.7,374.2 530.2,372.2 530.7,370.3 531.2,368.4 531.7,366.4 532.2,364.5 532.8,362.6 533.3,360.7 533.9,358.8 534.4,356.8 535.0,354.9 535.6,353.0 536.1,351.1 536.7,349.2 537.3,347.3 537.9,345.3 538.6,343.4 539.2,341.5 539.8,339.6 540.5,337.7 541.1,335.9 541.8,334.0 542.5,332.1 543.2,330.2 544.0,328.4 544.7,326.5 545.5,324.7 546.3,322.8 547.1,321.0 547.9,319.2 548.8,317.4 549.6,315.6 550.5,313.8 551.5,312.0 552.4,310.3 553.4,308.5 554.5,306.9 555.6,305.2 556.8,303.6 557.9,301.9 559.0,300.2 560.1,298.5 561.2,296.8 562.2,295.1 563.3,293.3 564.4,291.6 565.5,290.0 566.6,288.4 567.9,286.9 569.2,285.4 570.5,284.0 572.0,282.6 573.4,281.1 575.0,279.8 576.5,278.4 578.2,277.1 579.8,275.9 581.5,274.7 583.2,273.7 584.9,272.7 586.7,271.8 588.4,271.1 590.2,270.3 592.1,269.7 594.1,269.1 596.1,268.5 598.0,268.2 600.0,267.9 602.0,267.7 604.0,267.6 606.0,267.5 608.0,267.3 610.0,267.2 612.0,266.9 613.9,266.5 615.9,266.0 617.8,265.4 619.7,264.7 621.6,264.1 623.5,263.5 625.4,262.8 627.2,262.0 629.1,261.2 630.9,260.4 632.7,259.6 634.5,258.7 636.4,257.9 638.2,257.0 640.0,256.1 641.8,255.2 643.5,254.2 645.2,253.1 646.7,252.0 648.3,250.7 649.8,249.4 651.2,248.0 652.7,246.6 654.1,245.1 655.5,243.7 656.9,242.2 658.2,240.8 659.5,239.2 660.8,237.7 662.0,236.1 663.3,234.5 664.6,233.0 665.9,231.5 667.3,230.0 668.7,228.7 670.2,227.3 671.7,226.1 673.3,224.8 674.9,223.6 676.5,222.4 678.2,221.3 679.8,220.1 681.4,218.9 683.1,217.8 684.7,216.6 686.4,215.5 688.1,214.4 689.8,213.4 691.5,212.5 693.3,211.6 695.1,210.8 697.0,210.0 698.9,209.3 700.8,208.6 702.7,208.0 704.6,207.5 706.6,207.1 708.5,206.7 710.5,206.4 712.5,206.0 714.5,205.7 716.4,205.3 718.4,205.0 720.4,204.7 722.4,204.4 724.3,204.2 726.3,204.0 728.3,203.8 730.3,203.6 732.3,203.5 734.3,203.4 736.3,203.3 738.3,203.3 740.3,203.4 742.3,203.5 744.3,203.7 746.3,204.0 748.3,204.2 750.2,204.5 752.2,205.0 754.1,205.5 756.1,206.2 758.0,206.9 759.8,207.7 761.6,208.5 763.4,209.3 765.1,210.3 766.8,211.4 768.5,212.5 770.1,213.7 771.7,214.9 773.3,216.1 774.9,217.4 776.4,218.7 777.9,220.0 779.4,221.4 780.8,222.8 782.3,224.2 783.7,225.6 785.0,227.1 786.4,228.5 787.7,230.0 789.0,231.5 790.3,233.1 791.6,234.6 792.8,236.2 794.1,237.8 795.3,239.3 796.5,240.9 797.7,242.5 798.9,244.1 800.0,245.8 801.2,247.4 802.3,249.0 803.5,250.7 804.6,252.3 805.8,254.0 806.9,255.6 808.1,257.3 809.2,258.9 810.4,260.5 811.5,262.2 812.7,263.8 813.8,265.4 815.0,267.1 816.2,268.7 817.3,270.3 818.5,271.9 819.7,273.5 820.9,275.2 822.0,276.9 823.2,278.6 824.3,280.2 825.5,281.9 826.7,283.5 828.0,285.0 829.3,286.5 830.7,287.8 832.2,289.1 833.7,290.6 835.4,292.0 837.1,293.3 838.9,294.3 840.7,295.0 842.5,295.2 844.4,295.3 846.4,295.3 848.4,295.4 850.5,295.4 852.5,295.4 854.5,295.4 856.6,295.4 858.6,295.4 860.6,295.3 862.6,295.3 864.6,295.2 866.4,295.1 868.3,294.5 870.1,293.6 871.9,292.5 873.6,291.3 875.3,290.1 877.0,288.9 878.6,287.8 880.1,286.5 881.7,285.2 883.2,283.9 884.7,282.6 886.2,281.3 887.8,280.1 889.4,278.9 891.1,277.7 892.7,276.5 894.4,275.3 896.2,274.3 897.9,273.4 899.7,272.7 901.7,272.2 903.7,271.8 905.6,271.9 907.4,272.7 909.2,273.8 910.9,275.0 912.5,276.1 914.0,277.3 915.5,278.7 916.8,280.2 918.2,281.7 919.5,283.3 920.8,284.8 922.1,286.4 923.5,287.9 924.8,289.4 926.0,291.0 927.2,292.5 928.5,294.1 929.7,295.7 931.0,297.3 932.2,298.8 933.5,300.3 934.9,301.8 936.2,303.2 937.7,304.7 939.1,306.0 940.5,307.4 942.0,308.8 943.5,310.2 945.0,311.5 946.4,312.9 948.0,314.2 949.6,315.5 951.2,316.8 952.8,318.0 954.3,319.4 955.7,320.7 957.0,322.2 958.0,323.8 959.0,325.5 959.9,327.3 960.7,329.1 961.5,331.0 962.2,333.0 962.8,334.9 963.3,336.8 963.7,338.7 964.2,340.7 964.6,342.6 964.9,344.6 965.3,346.6 965.7,348.6 966.2,350.5 966.6,352.5 967.1,354.4 967.6,356.4 968.0,358.3 968.5,360.2 969.0,362.2 969.5,364.1 969.9,366.1 970.4,368.0 970.9,370.0 971.3,371.9 971.8,373.9 972.3,375.8 972.7,377.8 973.1,379.7 973.6,381.7 974.0,383.6 974.4,385.6 974.7,387.6 975.1,389.5 975.4,391.5 975.7,393.5 976.0,395.4 976.3,397.4 976.6,399.4 976.9,401.3 977.2,403.3 977.5,405.3 977.8,407.3 978.0,409.3 978.3,411.2 978.5,413.2 978.8,415.2 979.0,417.2 979.3,419.2 979.5,421.2 979.7,423.2 979.9,425.2 980.2,427.1 980.4,429.1 980.6,431.1 980.8,433.1 981.1,435.1 981.3,437.1 981.5,439.1 981.7,441.1 981.9,443.1 982.1,445.1 982.4,447.1 982.6,449.1 982.8,451.0 983.0,453.0 983.3,455.0 983.5,457.0 983.7,459.0 983.9,461.0 984.2,463.0 984.4,465.0 984.7,466.9 984.9,468.9 985.1,470.9 985.4,472.9 985.6,474.9 985.8,476.9 986.1,478.9 986.3,480.9 986.5,482.8 986.8,484.8 987.0,486.8 987.2,488.8 987.5,490.8 987.7,492.8 987.9,494.8 988.2,496.8 988.4,498.7 988.6,500.7 988.9,502.7 989.1,504.7 989.4,506.7 989.6,508.7 989.8,510.7 990.1,512.6 990.3,514.6 990.5,516.6 990.8,518.6 991.0,520.6 991.3,522.6 991.5,524.6 991.7,526.5 992.0,528.5 992.2,530.5 992.5,532.5 992.7,534.5 993.0,536.5 993.2,538.5 993.5,540.4 993.7,542.4 994.0,544.4 994.2,546.4 994.5,548.4 994.8,550.4 995.0,552.3 995.3,554.3 995.5,556.3 995.8,558.3 996.1,560.3 996.3,562.3 996.6,564.3 996.8,566.2 997.1,568.2 997.3,570.2 997.6,572.2 997.8,574.2 998.0,576.2 998.3,578.2 998.5,580.1 998.7,582.1 999.0,584.1 999.2,586.1 999.4,588.1 999.7,590.1 999.9,592.1 1000.1,594.0 1000.4,596.0 1000.6,598.0 1000.8,600.0 1001.0,602.0 1001.2,604.0 1001.5,606.0 1001.7,608.0 1001.9,610.0 1002.1,611.9 1002.4,613.9 1002.6,615.9 1002.8,617.9 1003.0,619.9 1003.2,621.9 1003.5,623.9 1003.7,625.9 1003.9,627.9 1004.1,629.8 1004.4,631.8 1004.6,633.8 1004.8,635.8 1005.0,637.8 1005.2,639.8 1005.5,641.8 1005.7,643.8 1005.9,645.7 1006.1,647.7 1006.4,649.7 1006.6,651.7 1006.8,653.7 1007.0,655.7 1007.2,657.7 1007.5,659.7 1007.7,661.7 1007.9,663.6 1008.1,665.6 1008.3,667.6 1008.6,669.6 1008.8,671.6 1009.0,673.6 1009.2,675.6 1009.4,677.6 1009.6,679.6 1009.9,681.5 1010.1,683.5 1010.3,685.5 1010.5,687.5 1010.8,689.5 1011.0,691.5 1011.2,693.5 1011.4,695.5 1011.7,697.4 1011.9,699.4 1012.1,701.4 1012.4,703.4 1012.6,705.4 1012.9,707.4 1013.1,709.4 1013.4,711.3 1013.6,713.3 1013.9,715.3 1014.1,717.3 1014.4,719.3 1014.6,721.3 1014.9,723.2 1015.2,725.2 1015.4,727.2 1015.7,729.2 1016.0,731.2 1016.3,733.2 1016.5,735.1 1016.8,737.1 1017.1,739.1 1017.4,741.1 1017.7,743.1 1017.9,745.0 1018.2,747.0 1018.5,749.0 1018.8,751.0 1019.1,753.0 1019.4,754.9 1019.7,756.9 1020.0,758.9 1020.3,760.9 1020.6,762.9 1020.9,764.8 1021.2,766.8 1021.5,768.8 1021.8,770.8 1022.1,772.7 1022.4,774.7 1022.7,776.7 1023.0,778.7 1023.4,780.6 1023.7,782.6 1024.0,784.6 1024.3,786.6 1024.6,788.6 1024.9,790.5 1025.2,792.5 1025.6,794.5 1025.9,796.5 1026.2,798.4 1026.5,800.4 1026.9,802.4 1027.2,804.3 1027.5,806.3 1027.9,808.3 1028.2,810.3 1028.6,812.2 1028.9,814.2 1029.3,816.2 1029.7,818.1 1030.0,820.1 1030.4,822.1 1030.8,824.0 1031.2,826.0 1031.6,828.0 1032.0,829.9 1032.4,831.9 1032.8,833.8 1033.2,835.8 1033.6,837.7 1034.0,839.7 1034.5,841.7 1034.9,843.6 1035.3,845.6 1035.7,847.5 1036.2,849.5 1036.6,851.4 1037.1,853.4 1037.5,855.3 1038.0,857.3 1038.4,859.2 1038.8,861.2 1039.3,863.1 1039.7,865.1 1040.2,867.0 1040.6,869.0 1041.0,870.9 1041.5,872.9 1041.9,874.8 1042.3,876.8 1042.8,878.8 1043.2,880.7 1043.6,882.7 1044.0,884.6 1044.4,886.6 1044.8,888.5 1045.2,890.5 1045.6,892.5 1046.0,894.4 1046.4,896.4 1046.7,898.4 1047.1,900.3 1047.5,902.3 1047.9,904.3 1048.2,906.2 1048.6,908.2 1049.0,910.1 1049.3,912.1 1049.7,914.1 1050.1,916.1 1050.4,918.0 1050.8,920.0 1051.1,922.0 1051.5,923.9 1051.8,925.9 1052.2,927.9 1052.5,929.8 1052.9,931.8 1053.2,933.8 1053.6,935.7 1053.9,937.7 1054.3,939.7 1054.6,941.7 1055.0,943.6 1055.3,945.6 1055.7,947.6 1056.0,949.5 1056.4,951.5 1056.7,953.5 1057.1,955.4 1057.4,957.4 1057.8,959.4 1058.1,961.4 1058.5,963.3 1058.8,965.3 1059.2,967.3 1059.5,969.2 1059.9,971.2 1060.2,973.2 1060.6,975.1 1060.9,977.1 1061.3,979.1 1061.6,981.1 1062.0,983.0 1062.3,985.0 1062.6,987.0 1063.0,988.9 1063.3,990.9 1063.7,992.9 1064.0,994.9 1064.4,996.8 1064.7,998.8 1065.0,1000.8 1065.4,1002.7 1065.7,1004.7 1066.1,1006.7 1066.4,1008.7 1066.8,1010.6 1067.1,1012.6 1067.4,1014.6 1067.8,1016.5 1068.1,1018.5 1068.5,1020.5 1068.8,1022.5 1069.2,1024.4 1069.5,1026.4 1069.9,1028.4 1070.2,1030.3 1070.5,1032.3 1070.9,1034.3 1071.2,1036.2 1071.6,1038.2 1071.9,1040.2 1072.3,1042.2 1072.7,1044.1 1073.0,1046.1 1073.4,1048.1 1073.7,1050.0 1074.1,1052.0 1074.4,1054.0 1074.8,1055.9 1075.1,1057.9 1075.5,1059.9 1075.8,1061.8 1076.2,1063.8 1076.5,1065.8 1076.9,1067.7 1077.3,1069.7 1077.6,1071.7 1077.9,1073.7 1078.3,1075.6 1078.6,1077.6 1079.0,1079.6 1079.3,1081.5 1079.7,1083.5 1080.0,1085.5 1080.4,1087.5 1080.7,1089.4 1081.1,1091.4 1081.4,1093.4 1081.7,1095.3 1082.1,1097.3 1082.4,1099.3 1082.8,1101.2 1083.1,1103.2 1083.5,1105.2 1083.8,1107.2 1084.1,1109.1 1084.5,1111.1 1084.8,1113.1 1085.2,1115.0 1085.5,1117.0 1085.8,1119.0 1086.2,1121.0 1086.5,1122.9 1086.9,1124.9 1087.2,1126.9 1087.6,1128.8 1087.9,1130.8 1088.3,1132.8 1088.6,1134.8 1089.0,1136.7 1089.3,1138.7 1089.7,1140.7 1090.0,1142.6 1090.4,1144.6 1090.7,1146.6 1091.1,1148.5 1091.4,1150.5 1091.8,1152.5 1092.1,1154.5 1092.4,1156.4 1092.8,1158.4 1093.1,1160.4 1093.5,1162.3 1093.8,1164.3 1094.2,1166.3 1094.5,1168.3 1094.9,1170.2 1095.2,1172.2 1095.5,1174.2 1095.9,1176.1 1096.2,1178.1 1096.6,1180.1 1096.9,1182.1 1097.3,1184.0 1097.7,1186.0 1098.0,1188.0 1098.4,1189.9 1098.7,1191.9 1099.1,1193.9 1099.5,1195.8 1099.8,1197.8 1100.2,1199.8 1100.6,1201.7 1101.0,1203.7 1101.3,1205.7 1101.7,1207.6 1102.1,1209.6 1102.5,1211.5 1102.9,1213.5 1103.3,1215.5 1103.7,1217.4 1104.1,1219.4 1104.5,1221.3 1104.9,1223.3 1105.3,1225.3 1105.7,1227.2 1106.1,1229.2 1106.5,1231.2 1106.9,1233.1 1107.3,1235.1 1107.7,1237.0 1108.1,1239.0 1108.6,1241.0 1109.0,1242.9 1109.4,1244.9 1109.8,1246.8 1110.2,1248.8 1110.7,1250.8 1111.1,1252.7 1111.6,1254.7 1112.0,1256.6 1112.5,1258.6 1112.9,1260.5 1113.4,1262.5 1113.9,1264.4 1114.3,1266.4 1114.8,1268.3 1115.3,1270.2 1115.8,1272.2 1116.3,1274.1 1116.8,1276.0 1117.3,1278.0 1117.9,1279.9 1118.4,1281.8 1118.9,1283.7 1119.5,1285.6 1120.1,1287.5 1120.7,1289.4 1121.4,1291.3 1122.0,1293.2 1122.7,1295.1 1123.4,1297.0 1124.1,1298.9 1124.8,1300.7 1125.4,1302.6 1126.0,1304.5 1126.6,1306.5 1127.2,1308.4 1127.9,1310.3 1128.5,1312.2 1129.1,1314.1 1129.8,1316.0 1130.4,1317.8 1131.1,1319.7 1131.8,1321.6 1132.5,1323.5 1133.3,1325.3 1134.0,1327.2 1134.8,1329.0 1135.6,1330.8 1136.4,1332.7 1137.2,1334.5 1138.1,1336.3 1138.9,1338.1 1139.7,1340.0 1140.6,1341.8 1141.4,1343.6 1142.3,1345.4 1143.1,1347.2 1144.0,1349.0 1144.9,1350.8 1145.8,1352.6 1146.8,1354.3 1147.7,1356.1 1148.7,1357.8 1149.7,1359.6 1150.7,1361.3 1151.7,1363.1 1152.7,1364.8 1153.8,1366.5 1154.8,1368.2 1155.9,1369.9 1157.0,1371.5 1158.2,1373.2 1159.3,1374.8 1160.5,1376.4 1161.8,1377.9 1163.0,1379.5 1164.3,1381.1 1165.6,1382.6 1166.9,1384.1 1168.2,1385.6 1169.6,1387.1 1171.0,1388.6 1172.4,1390.0 1173.7,1391.4 1175.2,1392.9 1176.6,1394.2 1178.1,1395.6 1179.6,1396.9 1181.1,1398.2 1182.6,1399.5 1184.2,1400.8 1185.7,1402.1 1187.2,1403.4 1188.7,1404.8 1190.2,1406.1 1191.8,1407.3 1193.4,1408.5 1195.0,1409.6 1196.7,1410.7 1198.3,1411.8 1200.0,1412.9 1201.7,1414.0 1203.4,1415.0 1205.1,1416.1 1206.8,1417.2 1208.5,1418.2 1210.2,1419.3 1211.9,1420.4 1213.6,1421.5 1215.3,1422.5 1217.0,1423.6 1218.7,1424.6 1220.5,1425.5 1222.2,1426.5 1224.0,1427.4 1225.8,1428.2 1227.6,1429.1 1229.5,1429.9 1231.3,1430.7 1233.1,1431.6 1234.9,1432.4 1236.7,1433.3 1238.5,1434.1 1240.4,1435.0 1242.2,1435.8 1244.0,1436.6 1245.8,1437.4 1247.6,1438.3 1249.5,1439.1 1251.3,1439.9 1253.1,1440.7 1255.0,1441.5 1256.8,1442.3 1258.6,1443.1 1260.5,1443.9 1262.3,1444.6 1264.2,1445.3 1266.1,1446.1 1267.9,1446.8 1269.8,1447.5 1271.7,1448.2 1273.5,1448.9 1275.4,1449.6 1277.3,1450.3 1279.2,1450.9 1281.1,1451.6 1283.0,1452.2 1284.9,1452.9 1286.8,1453.5 1288.7,1454.1 1290.6,1454.8 1292.5,1455.4 1294.4,1456.0 1296.3,1456.6 1298.2,1457.1 1300.1,1457.7 1302.0,1458.3 1304.0,1458.8 1305.9,1459.4 1307.8,1459.9 1309.7,1460.5 1311.7,1461.0 1313.6,1461.6 1315.5,1462.1 1317.4,1462.7 1319.4,1463.2 1321.3,1463.8 1323.2,1464.3 1325.1,1464.9 1327.1,1465.4 1329.0,1466.0 1330.9,1466.5 1332.8,1467.0 1334.8,1467.6 1336.7,1468.1 1338.6,1468.7 1340.5,1469.2 1342.5,1469.7 1344.4,1470.3 1346.3,1470.8 1348.3,1471.3 1350.2,1471.8 1352.1,1472.3 1354.1,1472.8 1356.0,1473.3 1357.9,1473.8 1359.9,1474.3 1361.8,1474.8 1363.8,1475.3 1365.7,1475.8 1367.6,1476.3 1369.6,1476.7 1371.5,1477.2 1373.5,1477.8 1375.4,1478.3 1377.3,1478.8 1379.3,1479.3 1381.2,1479.9 1383.1,1480.4 1385.0,1481.0 1386.9,1481.6 1388.8,1482.2 1390.8,1482.7 1392.7,1483.3 1394.6,1483.9 1396.5,1484.5 1398.4,1485.2 1400.3,1485.8 1402.2,1486.4 1404.1,1487.1 1406.0,1487.7 1407.9,1488.3 1409.8,1488.9 1411.7,1489.4 1413.7,1490.0 1415.6,1490.5 1417.5,1491.0 1419.5,1491.5 1421.4,1492.0 1423.3,1492.4 1425.3,1492.9 1427.2,1493.4 1429.2,1493.8 1431.1,1494.3 1433.1,1494.7 1435.1,1495.1 1437.0,1495.5 1439.0,1496.0 1440.9,1496.4 1442.9,1496.7 1444.9,1497.1 1446.8,1497.5 1448.8,1497.8 1450.8,1498.2 1452.7,1498.5 1454.7,1498.8 1456.7,1499.2 1458.7,1499.5 1460.6,1499.7 1462.6,1500.0 1464.6,1500.3 1466.6,1500.6 1468.6,1500.8 1470.5,1501.1 1472.5,1501.3 1474.5,1501.6 1476.5,1501.9 1478.5,1502.1 1480.5,1502.4 1482.5,1502.6 1484.4,1502.9 1486.4,1503.2 1488.4,1503.5 1490.4,1503.7 1492.4,1504.0 1494.4,1504.3 1496.3,1504.6 1498.3,1504.9 1500.3,1505.2 1502.3,1505.5 1504.2,1505.8 1506.2,1506.1 1508.2,1506.3 1510.2,1506.6 1512.2,1506.9 1514.1,1507.2 1516.1,1507.5 1518.1,1507.8 1520.1,1508.1 1522.1,1508.4 1524.0,1508.7 1526.0,1509.0 1528.0,1509.3 1530.0,1509.6 1531.9,1510.0 1533.9,1510.3 1535.9,1510.6 1537.9,1511.0 1539.8,1511.3 1541.8,1511.6 1543.8,1511.9 1545.8,1512.3 1547.7,1512.6 1549.7,1512.9 1551.7,1513.2 1553.7,1513.4 1555.7,1513.7 1557.6,1513.9 1559.6,1514.2 1561.6,1514.4 1563.6,1514.6 1565.6,1514.8 1567.6,1514.9 1569.6,1515.1 1571.6,1515.3 1573.6,1515.5 1575.6,1515.6 1577.6,1515.8 1579.6,1515.9 1581.5,1516.1 1583.5,1516.2 1585.5,1516.4 1587.5,1516.5 1589.5,1516.7 1591.5,1516.8 1593.5,1516.9 1595.5,1517.1 1597.5,1517.2 1599.5,1517.3 1601.5,1517.4 1603.5,1517.6 1605.5,1517.7 1607.5,1517.8 1609.5,1517.9 1611.5,1518.0 1613.5,1518.1 1615.5,1518.2 1617.5,1518.3 1619.5,1518.4 1621.5,1518.5 1623.5,1518.6 1625.5,1518.8 1627.5,1518.9 1629.5,1519.0 1631.5,1519.1 1633.5,1519.2 1635.5,1519.3 1637.5,1519.4 1639.5,1519.5 1641.5,1519.6 1643.5,1519.7 1645.5,1519.8 1647.5,1520.0 1649.5,1520.1 1651.5,1520.2 1653.5,1520.3 1655.5,1520.4 1657.5,1520.5 1659.4,1520.6 1661.4,1520.7 1663.4,1520.8 1665.4,1520.9 1667.4,1521.0 1669.4,1521.1 1671.4,1521.1 1673.4,1521.2 1675.4,1521.3 1677.4,1521.4 1679.4,1521.5 1681.4,1521.6 1683.4,1521.6 1685.4,1521.7 1687.4,1521.8 1689.4,1521.9 1691.4,1521.9 1693.4,1522.0 1695.4,1522.1 1697.4,1522.2 1699.4,1522.2 1701.4,1522.3 1703.4,1522.4 1705.4,1522.5 1707.4,1522.5 1709.4,1522.6 1711.4,1522.7 1713.4,1522.7 1715.4,1522.8 1717.4,1522.9 1719.4,1522.9 1721.4,1523.0 1723.4,1523.0 1725.4,1523.1 1727.4,1523.2 1729.4,1523.2 1731.4,1523.3 1733.4,1523.4 1735.4,1523.4 1737.4,1523.5 1739.4,1523.5 1741.4,1523.6 1743.4,1523.6 1745.4,1523.7 1747.4,1523.8 1749.4,1523.8 1751.4,1523.9 1753.4,1523.9 1755.4,1524.0 1757.4,1524.0 1759.4,1524.1 1761.4,1524.1 1763.4,1524.2 1765.4,1524.2 1767.4,1524.3 1769.4,1524.3 1771.4,1524.4 1773.4,1524.4 1775.4,1524.5 1777.4,1524.5 1779.4,1524.6 1781.4,1524.6 1783.4,1524.7 1785.4,1524.7 1787.4,1524.8 1789.4,1524.8 1791.4,1524.8 1793.4,1524.9 1795.4,1524.9 1797.4,1525.0 1799.4,1525.0 1801.4,1525.1 1803.4,1525.1 1805.4,1525.1 1807.4,1525.2 1809.4,1525.2 1811.4,1525.3 1813.4,1525.3 1815.4,1525.3 1817.4,1525.4 1819.4,1525.4 1821.4,1525.4 1823.4,1525.5 1825.4,1525.5 1827.4,1525.5 1829.4,1525.6 1831.4,1525.6 1833.4,1525.6 1835.4,1525.7 1837.4,1525.7 1839.4,1525.7 1841.4,1525.8 1843.4,1525.8 1845.4,1525.8 1847.4,1525.9 1849.4,1525.9 1851.4,1525.9 1853.4,1526.0 1855.4,1526.0 1857.4,1526.0 1859.4,1526.0 1861.4,1526.1 1863.4,1526.1 1865.4,1526.1 1867.4,1526.2 1869.4,1526.2 1871.4,1526.2 1873.4,1526.2 1875.4,1526.3 1877.4,1526.3 1879.4,1526.3 1881.4,1526.3 1883.4,1526.4 1885.4,1526.4 1887.4,1526.4 1889.4,1526.4 1891.4,1526.5 1893.4,1526.5 1895.4,1526.5 1897.4,1526.5 1899.4,1526.6 1901.4,1526.6 1903.4,1526.6 1905.4,1526.6 1907.4,1526.6 1909.4,1526.6 1911.4,1526.7 1913.4,1526.7 1915.4,1526.7 1917.4,1526.7 1919.4,1526.7 1921.4,1526.8 1923.4,1526.8 1925.4,1526.8 1927.4,1526.8 1929.4,1526.8 1931.5,1526.8 1933.5,1526.9 1935.5,1526.9 1937.5,1526.9 1939.5,1526.9 1941.5,1526.9 1943.5,1527.0 1945.5,1527.0 1947.5,1527.0 1949.5,1527.0 1951.5,1527.0 1953.5,1527.1 1955.5,1527.1 1957.5,1527.1 1959.5,1527.1 1961.5,1527.2 1963.5,1527.2 1965.5,1527.2 1967.5,1527.3 1969.5,1527.3 1971.5,1527.3 1973.5,1527.4 1975.5,1527.4 1977.5,1527.5 1979.5,1527.5 1981.5,1527.6 1983.5,1527.6 1985.5,1527.7 1987.5,1527.8 1989.5,1527.8 1991.5,1527.9 1993.5,1528.0 1995.5,1528.0 1997.5,1528.1 1999.5,1528.2 2001.5,1528.3 2003.5,1528.3 2005.5,1528.4 2007.5,1528.5 2009.5,1528.5 2011.5,1528.6 2013.5,1528.7 2015.5,1528.7 2017.4,1528.8 2019.4,1528.8 2021.4,1528.9 2023.4,1528.9 2025.4,1529.0 2027.4,1529.0 2029.4,1529.1 2031.4,1529.1 2033.4,1529.2 2035.5,1529.2 2037.5,1529.2 2039.5,1529.3 2041.5,1529.3 2043.5,1529.4 2045.5,1529.4 2047.5,1529.4 2049.5,1529.5 2051.5,1529.5 2053.5,1529.6 2055.5,1529.6 2057.5,1529.6 2059.5,1529.7 2061.5,1529.7 2063.5,1529.7 2065.5,1529.8 2067.5,1529.8 2069.5,1529.8 2071.5,1529.9 2073.5,1529.9 2075.5,1529.9 2077.5,1530.0 2079.5,1530.0 2081.5,1530.0 2083.5,1530.1 2085.5,1530.1 2087.5,1530.1 2089.5,1530.1 2091.5,1530.2 2093.5,1530.2 2095.5,1530.2 2097.5,1530.2 2099.5,1530.3 2101.5,1530.3 2103.5,1530.3 2105.5,1530.4 2107.5,1530.4 2109.5,1530.4 2111.5,1530.4 2113.5,1530.5 2115.5,1530.5 2117.5,1530.5 2119.5,1530.5 2121.5,1530.6 2123.5,1530.6 2125.5,1530.6 2127.5,1530.6 2129.5,1530.7 2131.5,1530.7 2133.5,1530.7 2135.5,1530.7 2137.5,1530.7 2139.5,1530.8 2141.5,1530.8 2143.5,1530.8 2145.5,1530.8 2147.5,1530.8 2149.5,1530.8 2151.5,1530.9 2153.5,1530.9 2155.5,1530.9 2157.5,1530.9 2159.5,1530.9 2161.5,1530.9 2163.5,1530.9 2165.5,1530.9 2167.5,1530.9 2169.5,1530.9 2171.5,1530.9 2173.5,1530.9 2175.5,1530.9 2177.5,1530.9 2179.5,1530.9 2181.5,1530.9 2183.5,1530.9 2185.5,1530.9 2187.5,1530.9 2189.5,1530.9 2191.5,1530.9 2193.5,1530.9 2195.5,1530.9 2197.5,1530.9 2199.5,1530.9 2201.5,1530.9 2203.5,1530.9 2205.5,1530.9 2207.5,1530.9 2209.5,1530.9 2211.5,1530.9 2213.5,1530.9 2215.5,1530.9 2217.5,1530.9 2219.5,1530.8 2221.5,1530.8 2223.5,1530.8 2225.5,1530.8 2227.5,1530.8 2229.5,1530.8 2231.5,1530.8"/>
<use href="#c04" stroke-width="13.6" shape-rendering="geometricPrecision"/>
</g>
<g shape-rendering="crispEdges">
<rect x="1707" y="178" width="173" height="15" fill="#515151"/>
<rect x="1707" y="334" width="173" height="15" fill="#F14040"/>
<rect x="1707" y="489" width="173" height="15" fill="#1A6FDF"/>
</g>
<text transform="translate(345,1583.5) scale(0.987,1.01)" font-size="100" text-anchor="end">0.0</text>
<text transform="translate(345,1310.1) scale(0.987,1.01)" font-size="100" text-anchor="end">0.2</text>
<text transform="translate(345,1036.7) scale(0.987,1.01)" font-size="100" text-anchor="end">0.4</text>
<text transform="translate(345,763.3) scale(0.987,1.01)" font-size="100" text-anchor="end">0.6</text>
<text transform="translate(345,489.9) scale(0.987,1.01)" font-size="100" text-anchor="end">0.8</text>
<text transform="translate(345,216.5) scale(0.987,1.01)" font-size="100" text-anchor="end">1.0</text>
<text transform="translate(393.3,1680.5) scale(1.0,1.01)" font-size="100" text-anchor="middle">200</text>
<text transform="translate(699.5,1680.5) scale(1.0,1.01)" font-size="100" text-anchor="middle">300</text>
<text transform="translate(1005.6,1680.5) scale(1.0,1.01)" font-size="100" text-anchor="middle">400</text>
<text transform="translate(1311.8,1680.5) scale(1.0,1.01)" font-size="100" text-anchor="middle">500</text>
<text transform="translate(1618.0,1680.5) scale(1.0,1.01)" font-size="100" text-anchor="middle">600</text>
<text transform="translate(1924.1,1680.5) scale(1.0,1.01)" font-size="100" text-anchor="middle">700</text>
<text transform="translate(2230.3,1680.5) scale(1.0,1.01)" font-size="100" text-anchor="middle">800</text>
<text transform="translate(1910,212.5) scale(1.255,1.296)" font-size="100" text-anchor="start">0.2g</text>
<text transform="translate(1910,367.4) scale(1.255,1.296)" font-size="100" text-anchor="start">0.3g</text>
<text transform="translate(1910,522.3) scale(1.255,1.296)" font-size="100" text-anchor="start">0.4g</text>
<text transform="translate(846,1845) scale(1.258,1.257)" font-size="100" text-anchor="start">Wavelength (nm)</text>
<text transform="translate(121,1223) rotate(-90) scale(1.279,1.225)" font-size="100" text-anchor="start">Absorbance (a.u)</text>
</svg>
</body></html>
